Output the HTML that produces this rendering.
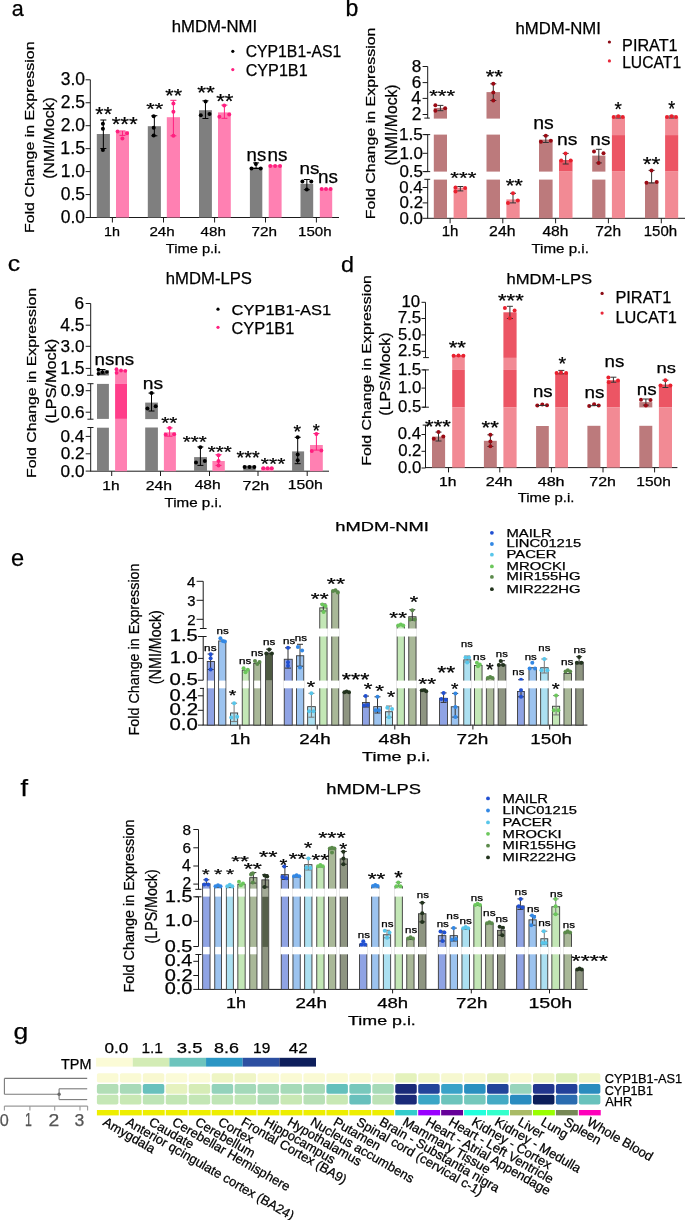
<!DOCTYPE html>
<html><head><meta charset="utf-8"><style>
html,body{margin:0;padding:0;background:#fff;}
svg{display:block;font-family:"Liberation Sans",sans-serif;will-change:transform;}
text{stroke-width:0.25px;}
</style></head><body>
<svg width="685" height="1220" viewBox="0 0 685 1220">
<rect width="685" height="1220" fill="#fff"/>
<text x="11.84" y="16.37" font-size="22.73" textLength="11.99" lengthAdjust="spacingAndGlyphs" fill="#000" stroke="#000">a</text>
<text x="171.73" y="32.1" font-size="15.59" textLength="85.38" lengthAdjust="spacingAndGlyphs" fill="#000" stroke="#000">hMDM-NMI</text>
<circle cx="232.8" cy="51.3" r="1.6" fill="#000"/>
<text x="245.71" y="57.44" font-size="16.34" textLength="95.48" lengthAdjust="spacingAndGlyphs" fill="#000" stroke="#000">CYP1B1-AS1</text>
<circle cx="232.8" cy="69.6" r="1.6" fill="#ff1f7f"/>
<text x="245.69" y="75.84" font-size="16.34" textLength="61.94" lengthAdjust="spacingAndGlyphs" fill="#000" stroke="#000">CYP1B1</text>
<text transform="translate(34.14,233.08) rotate(-90)" x="0" y="0" font-size="13.16" textLength="191.65" lengthAdjust="spacingAndGlyphs" fill="#000" stroke="#000">Fold Change in Expression</text>
<text transform="translate(54.26,178.65) rotate(-90)" x="0" y="0" font-size="14.97" textLength="81.41" lengthAdjust="spacingAndGlyphs" fill="#000" stroke="#000">(NMI/Mock)</text>
<line x1="90.3" y1="79.7" x2="90.3" y2="217.5" stroke="#1a1a1a" stroke-width="1"/>
<line x1="85.6" y1="217.5" x2="90.3" y2="217.5" stroke="#1a1a1a" stroke-width="1"/>
<text x="60.72" y="222.93" font-size="17.46" textLength="24.28" lengthAdjust="spacingAndGlyphs" fill="#000" stroke="#000">0.0</text>
<line x1="85.6" y1="194.55" x2="90.3" y2="194.55" stroke="#1a1a1a" stroke-width="1"/>
<text x="60.72" y="199.98" font-size="17.46" textLength="24.28" lengthAdjust="spacingAndGlyphs" fill="#000" stroke="#000">0.5</text>
<line x1="85.6" y1="171.6" x2="90.3" y2="171.6" stroke="#1a1a1a" stroke-width="1"/>
<text x="60.72" y="177.03" font-size="17.46" textLength="24.28" lengthAdjust="spacingAndGlyphs" fill="#000" stroke="#000">1.0</text>
<line x1="85.6" y1="148.65" x2="90.3" y2="148.65" stroke="#1a1a1a" stroke-width="1"/>
<text x="60.39" y="154.07" font-size="17.71" textLength="24.63" lengthAdjust="spacingAndGlyphs" fill="#000" stroke="#000">1.5</text>
<line x1="85.6" y1="125.7" x2="90.3" y2="125.7" stroke="#1a1a1a" stroke-width="1"/>
<text x="60.72" y="131.13" font-size="17.46" textLength="24.28" lengthAdjust="spacingAndGlyphs" fill="#000" stroke="#000">2.0</text>
<line x1="85.6" y1="102.75" x2="90.3" y2="102.75" stroke="#1a1a1a" stroke-width="1"/>
<text x="60.72" y="108.18" font-size="17.46" textLength="24.28" lengthAdjust="spacingAndGlyphs" fill="#000" stroke="#000">2.5</text>
<line x1="85.6" y1="79.8" x2="90.3" y2="79.8" stroke="#1a1a1a" stroke-width="1"/>
<text x="60.72" y="85.23" font-size="17.46" textLength="24.28" lengthAdjust="spacingAndGlyphs" fill="#000" stroke="#000">3.0</text>
<line x1="89.8" y1="217.5" x2="339" y2="217.5" stroke="#1a1a1a" stroke-width="1"/>
<line x1="112.4" y1="217.5" x2="112.4" y2="222.5" stroke="#1a1a1a" stroke-width="1"/>
<text x="104.13" y="236.2" font-size="13.52" textLength="15.94" lengthAdjust="spacingAndGlyphs" fill="#000" stroke="#000">1h</text>
<line x1="163.5" y1="217.5" x2="163.5" y2="222.5" stroke="#1a1a1a" stroke-width="1"/>
<text x="149.44" y="236.2" font-size="13.52" textLength="25.3" lengthAdjust="spacingAndGlyphs" fill="#000" stroke="#000">24h</text>
<line x1="214.6" y1="217.5" x2="214.6" y2="222.5" stroke="#1a1a1a" stroke-width="1"/>
<text x="200.52" y="236.07" font-size="13.33" textLength="25.32" lengthAdjust="spacingAndGlyphs" fill="#000" stroke="#000">48h</text>
<line x1="265.5" y1="217.5" x2="265.5" y2="222.5" stroke="#1a1a1a" stroke-width="1"/>
<text x="251.54" y="236.2" font-size="13.52" textLength="25.51" lengthAdjust="spacingAndGlyphs" fill="#000" stroke="#000">72h</text>
<line x1="316.4" y1="217.5" x2="316.4" y2="222.5" stroke="#1a1a1a" stroke-width="1"/>
<text x="298.07" y="236.07" font-size="13.33" textLength="33.5" lengthAdjust="spacingAndGlyphs" fill="#000" stroke="#000">150h</text>
<text x="165.81" y="252.56" font-size="13.05" textLength="55.64" lengthAdjust="spacingAndGlyphs" fill="#000" stroke="#000">Time p.i.</text>
<rect x="96.8" y="134" width="13.1" height="83.5" fill="#7f7f7f"/>
<line x1="103.35" y1="120" x2="103.35" y2="148.5" stroke="#000" stroke-width="1"/>
<line x1="100.35" y1="120" x2="106.35" y2="120" stroke="#000" stroke-width="1"/>
<line x1="100.35" y1="148.5" x2="106.35" y2="148.5" stroke="#000" stroke-width="1"/>
<circle cx="102.9" cy="123.8" r="2" fill="#000"/>
<circle cx="102.9" cy="128.8" r="2" fill="#000"/>
<circle cx="102.9" cy="150" r="2" fill="#000"/>
<rect x="116" y="131.4" width="13" height="86.1" fill="#ff80b2"/>
<line x1="122.5" y1="131" x2="122.5" y2="135.4" stroke="#ff1f7f" stroke-width="1"/>
<line x1="119.5" y1="131" x2="125.5" y2="131" stroke="#ff1f7f" stroke-width="1"/>
<line x1="119.5" y1="135.4" x2="125.5" y2="135.4" stroke="#ff1f7f" stroke-width="1"/>
<circle cx="117.6" cy="131.6" r="2" fill="#ff1f7f"/>
<circle cx="127" cy="133.2" r="2" fill="#ff1f7f"/>
<circle cx="122.4" cy="138.6" r="2" fill="#ff1f7f"/>
<rect x="147.8" y="126.2" width="13.1" height="91.3" fill="#7f7f7f"/>
<line x1="154.35" y1="115.7" x2="154.35" y2="135.8" stroke="#000" stroke-width="1"/>
<line x1="151.35" y1="115.7" x2="157.35" y2="115.7" stroke="#000" stroke-width="1"/>
<line x1="151.35" y1="135.8" x2="157.35" y2="135.8" stroke="#000" stroke-width="1"/>
<circle cx="153.7" cy="116.3" r="2" fill="#000"/>
<circle cx="153.7" cy="127.7" r="2" fill="#000"/>
<circle cx="153.7" cy="135.4" r="2" fill="#000"/>
<rect x="166.8" y="117.2" width="13.2" height="100.3" fill="#ff80b2"/>
<line x1="173.4" y1="100.3" x2="173.4" y2="135.8" stroke="#ff1f7f" stroke-width="1"/>
<line x1="170.4" y1="100.3" x2="176.4" y2="100.3" stroke="#ff1f7f" stroke-width="1"/>
<line x1="170.4" y1="135.8" x2="176.4" y2="135.8" stroke="#ff1f7f" stroke-width="1"/>
<circle cx="173.4" cy="103.6" r="2" fill="#ff1f7f"/>
<circle cx="173.4" cy="111.7" r="2" fill="#ff1f7f"/>
<circle cx="173.4" cy="135.8" r="2" fill="#ff1f7f"/>
<rect x="199" y="110.2" width="12.9" height="107.3" fill="#7f7f7f"/>
<line x1="205.45" y1="100.8" x2="205.45" y2="118.5" stroke="#000" stroke-width="1"/>
<line x1="202.45" y1="100.8" x2="208.45" y2="100.8" stroke="#000" stroke-width="1"/>
<line x1="202.45" y1="118.5" x2="208.45" y2="118.5" stroke="#000" stroke-width="1"/>
<circle cx="205.6" cy="101.4" r="2" fill="#000"/>
<circle cx="200.8" cy="115.2" r="2" fill="#000"/>
<circle cx="209.5" cy="113.9" r="2" fill="#000"/>
<rect x="218" y="112.4" width="12.8" height="105.1" fill="#ff80b2"/>
<line x1="224.4" y1="105.1" x2="224.4" y2="118.3" stroke="#ff1f7f" stroke-width="1"/>
<line x1="221.4" y1="105.1" x2="227.4" y2="105.1" stroke="#ff1f7f" stroke-width="1"/>
<line x1="221.4" y1="118.3" x2="227.4" y2="118.3" stroke="#ff1f7f" stroke-width="1"/>
<circle cx="224.2" cy="105.4" r="2" fill="#ff1f7f"/>
<circle cx="219.4" cy="116.7" r="2" fill="#ff1f7f"/>
<circle cx="229.2" cy="114.6" r="2" fill="#ff1f7f"/>
<rect x="249.9" y="167.3" width="12.4" height="50.2" fill="#7f7f7f"/>
<line x1="256.1" y1="162.9" x2="256.1" y2="168.5" stroke="#000" stroke-width="1"/>
<line x1="253.1" y1="162.9" x2="259.1" y2="162.9" stroke="#000" stroke-width="1"/>
<line x1="253.1" y1="168.5" x2="259.1" y2="168.5" stroke="#000" stroke-width="1"/>
<circle cx="251.5" cy="168.5" r="2" fill="#000"/>
<circle cx="260.7" cy="168.5" r="2" fill="#000"/>
<circle cx="255.9" cy="164" r="2" fill="#000"/>
<rect x="268.7" y="165" width="12.9" height="52.5" fill="#ff80b2"/>
<circle cx="270.3" cy="166.1" r="2" fill="#ff1f7f"/>
<circle cx="275.1" cy="166.1" r="2" fill="#ff1f7f"/>
<circle cx="280" cy="166.1" r="2" fill="#ff1f7f"/>
<rect x="300.5" y="183.8" width="12.7" height="33.7" fill="#7f7f7f"/>
<line x1="306.85" y1="179.5" x2="306.85" y2="189.7" stroke="#000" stroke-width="1"/>
<line x1="303.85" y1="179.5" x2="309.85" y2="179.5" stroke="#000" stroke-width="1"/>
<line x1="303.85" y1="189.7" x2="309.85" y2="189.7" stroke="#000" stroke-width="1"/>
<circle cx="302.4" cy="181.4" r="2" fill="#000"/>
<circle cx="311.3" cy="181.4" r="2" fill="#000"/>
<circle cx="306.8" cy="189.4" r="2" fill="#000"/>
<rect x="319.8" y="188.6" width="12.4" height="28.9" fill="#ff80b2"/>
<circle cx="321.7" cy="188.9" r="2" fill="#ff1f7f"/>
<circle cx="326" cy="188.9" r="2" fill="#ff1f7f"/>
<circle cx="330.6" cy="188.9" r="2" fill="#ff1f7f"/>
<text x="95.38" y="121.09" font-size="21.14" textLength="16.61" lengthAdjust="spacingAndGlyphs" fill="#000" stroke="#000">**</text>
<text x="111.67" y="131.2" font-size="20" textLength="26.02" lengthAdjust="spacingAndGlyphs" fill="#000" stroke="#000">***</text>
<text x="146.37" y="115.23" font-size="16.86" textLength="16.92" lengthAdjust="spacingAndGlyphs" fill="#000" stroke="#000">**</text>
<text x="165.38" y="101.91" font-size="18.86" textLength="16.71" lengthAdjust="spacingAndGlyphs" fill="#000" stroke="#000">**</text>
<text x="197.16" y="99.11" font-size="18.86" textLength="17.55" lengthAdjust="spacingAndGlyphs" fill="#000" stroke="#000">**</text>
<text x="216.17" y="107.6" font-size="20" textLength="17.24" lengthAdjust="spacingAndGlyphs" fill="#000" stroke="#000">**</text>
<text x="246.6" y="161.13" font-size="17.45" textLength="19.58" lengthAdjust="spacingAndGlyphs" fill="#000" stroke="#000">ns</text>
<text x="267.47" y="161.13" font-size="17.45" textLength="19.91" lengthAdjust="spacingAndGlyphs" fill="#000" stroke="#000">ns</text>
<text x="299.57" y="174.03" font-size="16.73" textLength="19.91" lengthAdjust="spacingAndGlyphs" fill="#000" stroke="#000">ns</text>
<text x="318.07" y="182.83" font-size="17.45" textLength="19.91" lengthAdjust="spacingAndGlyphs" fill="#000" stroke="#000">ns</text>
<text x="345.5" y="16.2" font-size="23" fill="#000" stroke="#000">b</text>
<text x="515.53" y="33.9" font-size="15.59" textLength="85.38" lengthAdjust="spacingAndGlyphs" fill="#000" stroke="#000">hMDM-NMI</text>
<circle cx="609.4" cy="42" r="1.6" fill="#8b0a14"/>
<text x="622.1" y="50.9" font-size="16.09" textLength="55.56" lengthAdjust="spacingAndGlyphs" fill="#000" stroke="#000">PIRAT1</text>
<circle cx="609.4" cy="60.9" r="1.6" fill="#e8283a"/>
<text x="622.15" y="68.34" font-size="15.63" textLength="58.97" lengthAdjust="spacingAndGlyphs" fill="#000" stroke="#000">LUCAT1</text>
<text transform="translate(375.46,219.18) rotate(-90)" x="0" y="0" font-size="13.05" textLength="191.65" lengthAdjust="spacingAndGlyphs" fill="#000" stroke="#000">Fold Change in Expression</text>
<text transform="translate(397.12,165.54) rotate(-90)" x="0" y="0" font-size="15.61" textLength="81.1" lengthAdjust="spacingAndGlyphs" fill="#000" stroke="#000">(NMI/Mock)</text>
<line x1="427.7" y1="66.5" x2="427.7" y2="118.1" stroke="#1a1a1a" stroke-width="1"/>
<line x1="424.3" y1="118.1" x2="429.8" y2="118.1" stroke="#1a1a1a" stroke-width="1"/>
<line x1="427.7" y1="134.6" x2="427.7" y2="171.6" stroke="#1a1a1a" stroke-width="1"/>
<line x1="424.3" y1="134.6" x2="430.2" y2="134.6" stroke="#1a1a1a" stroke-width="1"/>
<line x1="424.3" y1="171.6" x2="430.2" y2="171.6" stroke="#1a1a1a" stroke-width="1"/>
<line x1="427.7" y1="179.3" x2="427.7" y2="218.3" stroke="#1a1a1a" stroke-width="1"/>
<line x1="424.3" y1="179.3" x2="430.2" y2="179.3" stroke="#1a1a1a" stroke-width="1"/>
<line x1="422.6" y1="66.5" x2="427.7" y2="66.5" stroke="#1a1a1a" stroke-width="1"/>
<text x="411.65" y="72.03" font-size="17.18" textLength="9.56" lengthAdjust="spacingAndGlyphs" fill="#000" stroke="#000">8</text>
<line x1="422.6" y1="82.6" x2="427.7" y2="82.6" stroke="#1a1a1a" stroke-width="1"/>
<text x="411.74" y="88.13" font-size="17.18" textLength="9.56" lengthAdjust="spacingAndGlyphs" fill="#000" stroke="#000">6</text>
<line x1="422.6" y1="98.4" x2="427.7" y2="98.4" stroke="#1a1a1a" stroke-width="1"/>
<text x="411.22" y="104.1" font-size="17.68" textLength="9.83" lengthAdjust="spacingAndGlyphs" fill="#000" stroke="#000">4</text>
<line x1="422.6" y1="114.5" x2="427.7" y2="114.5" stroke="#1a1a1a" stroke-width="1"/>
<text x="411.7" y="120.2" font-size="17.43" textLength="9.69" lengthAdjust="spacingAndGlyphs" fill="#000" stroke="#000">2</text>
<line x1="422.6" y1="134.6" x2="427.7" y2="134.6" stroke="#1a1a1a" stroke-width="1"/>
<text x="399.06" y="139.83" font-size="17.14" textLength="23.83" lengthAdjust="spacingAndGlyphs" fill="#000" stroke="#000">1.5</text>
<line x1="422.6" y1="153.3" x2="427.7" y2="153.3" stroke="#1a1a1a" stroke-width="1"/>
<text x="399.38" y="158.53" font-size="16.9" textLength="23.5" lengthAdjust="spacingAndGlyphs" fill="#000" stroke="#000">1.0</text>
<line x1="422.6" y1="171.6" x2="427.7" y2="171.6" stroke="#1a1a1a" stroke-width="1"/>
<text x="399.38" y="176.83" font-size="16.9" textLength="23.5" lengthAdjust="spacingAndGlyphs" fill="#000" stroke="#000">0.5</text>
<line x1="422.6" y1="187.5" x2="427.7" y2="187.5" stroke="#1a1a1a" stroke-width="1"/>
<text x="399.21" y="192.73" font-size="16.9" textLength="23.5" lengthAdjust="spacingAndGlyphs" fill="#000" stroke="#000">0.4</text>
<line x1="422.6" y1="202.9" x2="427.7" y2="202.9" stroke="#1a1a1a" stroke-width="1"/>
<text x="399.55" y="208.13" font-size="16.9" textLength="23.5" lengthAdjust="spacingAndGlyphs" fill="#000" stroke="#000">0.2</text>
<line x1="422.6" y1="218.3" x2="427.7" y2="218.3" stroke="#1a1a1a" stroke-width="1"/>
<text x="399.38" y="223.53" font-size="16.9" textLength="23.5" lengthAdjust="spacingAndGlyphs" fill="#000" stroke="#000">0.0</text>
<line x1="427.2" y1="218.3" x2="685" y2="218.3" stroke="#1a1a1a" stroke-width="1"/>
<line x1="450.1" y1="218.3" x2="450.1" y2="223.3" stroke="#1a1a1a" stroke-width="1"/>
<text x="441.67" y="236.2" font-size="14.21" textLength="16.74" lengthAdjust="spacingAndGlyphs" fill="#000" stroke="#000">1h</text>
<line x1="502.8" y1="218.3" x2="502.8" y2="223.3" stroke="#1a1a1a" stroke-width="1"/>
<text x="489.11" y="236.2" font-size="14.21" textLength="26.37" lengthAdjust="spacingAndGlyphs" fill="#000" stroke="#000">24h</text>
<line x1="555.6" y1="218.3" x2="555.6" y2="223.3" stroke="#1a1a1a" stroke-width="1"/>
<text x="542.41" y="236.06" font-size="14.01" textLength="25.95" lengthAdjust="spacingAndGlyphs" fill="#000" stroke="#000">48h</text>
<line x1="608.4" y1="218.3" x2="608.4" y2="223.3" stroke="#1a1a1a" stroke-width="1"/>
<text x="595.23" y="236.2" font-size="14.21" textLength="25.84" lengthAdjust="spacingAndGlyphs" fill="#000" stroke="#000">72h</text>
<line x1="661.3" y1="218.3" x2="661.3" y2="223.3" stroke="#1a1a1a" stroke-width="1"/>
<text x="643.77" y="236.06" font-size="14.01" textLength="33.4" lengthAdjust="spacingAndGlyphs" fill="#000" stroke="#000">150h</text>
<text x="531.4" y="253.33" font-size="13.69" textLength="57.5" lengthAdjust="spacingAndGlyphs" fill="#000" stroke="#000">Time p.i.</text>
<rect x="433.8" y="107.9" width="13.2" height="10.7" fill="#bc7a7c"/>
<rect x="433.8" y="134.6" width="13.2" height="37" fill="#bc7a7c"/>
<rect x="433.8" y="179.6" width="13.2" height="38.7" fill="#bc7a7c"/>
<line x1="440.4" y1="105.4" x2="440.4" y2="110.7" stroke="#333" stroke-width="1"/>
<line x1="437.4" y1="105.4" x2="443.4" y2="105.4" stroke="#333" stroke-width="1"/>
<line x1="437.4" y1="110.7" x2="443.4" y2="110.7" stroke="#333" stroke-width="1"/>
<circle cx="435.4" cy="105.3" r="2" fill="#9a0a14"/>
<circle cx="435.4" cy="110.7" r="2" fill="#9a0a14"/>
<circle cx="445.1" cy="108.2" r="2" fill="#9a0a14"/>
<rect x="453.6" y="187.7" width="13.5" height="30.6" fill="#f28a94"/>
<line x1="460.3" y1="186.5" x2="460.3" y2="190.9" stroke="#333" stroke-width="1"/>
<line x1="457.3" y1="186.5" x2="463.3" y2="186.5" stroke="#333" stroke-width="1"/>
<line x1="457.3" y1="190.9" x2="463.3" y2="190.9" stroke="#333" stroke-width="1"/>
<circle cx="455.5" cy="187.4" r="2" fill="#e8202e"/>
<circle cx="455.5" cy="191.4" r="2" fill="#e8202e"/>
<circle cx="465.1" cy="188" r="2" fill="#e8202e"/>
<rect x="486.5" y="92.1" width="13.5" height="26.5" fill="#bc7a7c"/>
<rect x="486.5" y="134.6" width="13.5" height="37" fill="#bc7a7c"/>
<rect x="486.5" y="179.6" width="13.5" height="38.7" fill="#bc7a7c"/>
<line x1="493.3" y1="83.8" x2="493.3" y2="100.5" stroke="#333" stroke-width="1"/>
<line x1="490.3" y1="83.8" x2="496.3" y2="83.8" stroke="#333" stroke-width="1"/>
<line x1="490.3" y1="100.5" x2="496.3" y2="100.5" stroke="#333" stroke-width="1"/>
<circle cx="493.3" cy="83.8" r="2" fill="#9a0a14"/>
<circle cx="493.3" cy="92.6" r="2" fill="#9a0a14"/>
<circle cx="493.3" cy="100.5" r="2" fill="#9a0a14"/>
<rect x="506.4" y="199.4" width="13.3" height="18.9" fill="#f28a94"/>
<line x1="513" y1="193.3" x2="513" y2="202.9" stroke="#333" stroke-width="1"/>
<line x1="510" y1="193.3" x2="516" y2="193.3" stroke="#333" stroke-width="1"/>
<line x1="510" y1="202.9" x2="516" y2="202.9" stroke="#333" stroke-width="1"/>
<circle cx="513" cy="193.3" r="2" fill="#e8202e"/>
<circle cx="508" cy="202.9" r="2" fill="#e8202e"/>
<circle cx="517.8" cy="200.5" r="2" fill="#e8202e"/>
<rect x="539" y="139.6" width="13.6" height="32" fill="#bc7a7c"/>
<rect x="539" y="179.6" width="13.6" height="38.7" fill="#bc7a7c"/>
<line x1="545.8" y1="135.7" x2="545.8" y2="142.5" stroke="#333" stroke-width="1"/>
<line x1="542.8" y1="135.7" x2="548.8" y2="135.7" stroke="#333" stroke-width="1"/>
<line x1="542.8" y1="142.5" x2="548.8" y2="142.5" stroke="#333" stroke-width="1"/>
<circle cx="540.9" cy="141.8" r="2" fill="#9a0a14"/>
<circle cx="550.8" cy="140.7" r="2" fill="#9a0a14"/>
<circle cx="545.8" cy="135.7" r="2" fill="#9a0a14"/>
<rect x="559" y="160" width="13.5" height="11.6" fill="#ec5564"/>
<rect x="559" y="171.6" width="13.5" height="46.7" fill="#f28a94"/>
<line x1="565.7" y1="153.4" x2="565.7" y2="164" stroke="#333" stroke-width="1"/>
<line x1="562.7" y1="153.4" x2="568.7" y2="153.4" stroke="#333" stroke-width="1"/>
<line x1="562.7" y1="164" x2="568.7" y2="164" stroke="#333" stroke-width="1"/>
<circle cx="561.2" cy="160.6" r="2" fill="#e8202e"/>
<circle cx="570.7" cy="160.6" r="2" fill="#e8202e"/>
<circle cx="565.5" cy="153.4" r="2" fill="#e8202e"/>
<rect x="592.2" y="155.6" width="13.2" height="16" fill="#bc7a7c"/>
<rect x="592.2" y="179.6" width="13.2" height="38.7" fill="#bc7a7c"/>
<line x1="598.8" y1="149.3" x2="598.8" y2="162.9" stroke="#333" stroke-width="1"/>
<line x1="595.8" y1="149.3" x2="601.8" y2="149.3" stroke="#333" stroke-width="1"/>
<line x1="595.8" y1="162.9" x2="601.8" y2="162.9" stroke="#333" stroke-width="1"/>
<circle cx="594" cy="151.6" r="2" fill="#9a0a14"/>
<circle cx="603.5" cy="153.2" r="2" fill="#9a0a14"/>
<circle cx="598.6" cy="162.9" r="2" fill="#9a0a14"/>
<rect x="611.9" y="117" width="13.1" height="18.1" fill="#f28a94"/>
<rect x="611.9" y="135.1" width="13.1" height="36.5" fill="#ec5564"/>
<rect x="611.9" y="171.6" width="13.1" height="46.7" fill="#f28a94"/>
<line x1="618.4" y1="116" x2="618.4" y2="118" stroke="#333" stroke-width="1"/>
<line x1="615.4" y1="116" x2="621.4" y2="116" stroke="#333" stroke-width="1"/>
<line x1="615.4" y1="118" x2="621.4" y2="118" stroke="#333" stroke-width="1"/>
<circle cx="613.7" cy="117" r="2" fill="#e8202e"/>
<circle cx="618.3" cy="116.3" r="2" fill="#e8202e"/>
<circle cx="622.8" cy="117" r="2" fill="#e8202e"/>
<rect x="645" y="182.1" width="13.3" height="36.2" fill="#bc7a7c"/>
<line x1="651.6" y1="170.4" x2="651.6" y2="183" stroke="#333" stroke-width="1"/>
<line x1="648.6" y1="170.4" x2="654.6" y2="170.4" stroke="#333" stroke-width="1"/>
<line x1="648.6" y1="183" x2="654.6" y2="183" stroke="#333" stroke-width="1"/>
<circle cx="646.5" cy="182.8" r="2" fill="#9a0a14"/>
<circle cx="656.7" cy="182.1" r="2" fill="#9a0a14"/>
<circle cx="651.5" cy="170.4" r="2" fill="#9a0a14"/>
<rect x="665.1" y="117" width="13.1" height="18.1" fill="#f28a94"/>
<rect x="665.1" y="135.1" width="13.1" height="36.5" fill="#ec5564"/>
<rect x="665.1" y="171.6" width="13.1" height="46.7" fill="#f28a94"/>
<line x1="671.6" y1="116" x2="671.6" y2="118" stroke="#333" stroke-width="1"/>
<line x1="668.6" y1="116" x2="674.6" y2="116" stroke="#333" stroke-width="1"/>
<line x1="668.6" y1="118" x2="674.6" y2="118" stroke="#333" stroke-width="1"/>
<circle cx="667" cy="117" r="2" fill="#e8202e"/>
<circle cx="671.6" cy="116.3" r="2" fill="#e8202e"/>
<circle cx="676" cy="117" r="2" fill="#e8202e"/>
<text x="429.17" y="101.53" font-size="17.14" textLength="25.92" lengthAdjust="spacingAndGlyphs" fill="#000" stroke="#000">***</text>
<text x="450.37" y="184.23" font-size="17.14" textLength="26.02" lengthAdjust="spacingAndGlyphs" fill="#000" stroke="#000">***</text>
<text x="485.67" y="82.62" font-size="18.29" textLength="17.13" lengthAdjust="spacingAndGlyphs" fill="#000" stroke="#000">**</text>
<text x="505.77" y="191.82" font-size="18.29" textLength="17.13" lengthAdjust="spacingAndGlyphs" fill="#000" stroke="#000">**</text>
<text x="533.23" y="129.22" font-size="18.18" textLength="20.57" lengthAdjust="spacingAndGlyphs" fill="#000" stroke="#000">ns</text>
<text x="557.04" y="145.03" font-size="17.27" textLength="20.46" lengthAdjust="spacingAndGlyphs" fill="#000" stroke="#000">ns</text>
<text x="590.37" y="145.03" font-size="17.27" textLength="20.02" lengthAdjust="spacingAndGlyphs" fill="#000" stroke="#000">ns</text>
<text x="614.62" y="115.61" font-size="19.43" textLength="7.34" lengthAdjust="spacingAndGlyphs" fill="#000" stroke="#000">*</text>
<text x="642.76" y="171.19" font-size="21.14" textLength="17.76" lengthAdjust="spacingAndGlyphs" fill="#000" stroke="#000">**</text>
<text x="668.23" y="116.48" font-size="22" textLength="6.91" lengthAdjust="spacingAndGlyphs" fill="#000" stroke="#000">*</text>
<text x="7.81" y="270.97" font-size="22.55" textLength="12.41" lengthAdjust="spacingAndGlyphs" fill="#000" stroke="#000">c</text>
<text x="165.83" y="284.43" font-size="17.01" textLength="86.16" lengthAdjust="spacingAndGlyphs" fill="#000" stroke="#000">hMDM-LPS</text>
<circle cx="218" cy="309.2" r="1.6" fill="#000"/>
<text x="231.58" y="315.35" font-size="15.49" textLength="99.64" lengthAdjust="spacingAndGlyphs" fill="#000" stroke="#000">CYP1B1-AS1</text>
<circle cx="218" cy="327.3" r="1.6" fill="#ff1f7f"/>
<text x="231.58" y="333.74" font-size="16.06" textLength="62.66" lengthAdjust="spacingAndGlyphs" fill="#000" stroke="#000">CYP1B1</text>
<text transform="translate(35.95,477.97) rotate(-90)" x="0" y="0" font-size="13.58" textLength="190.03" lengthAdjust="spacingAndGlyphs" fill="#000" stroke="#000">Fold Change in Expression</text>
<text transform="translate(56.16,423.57) rotate(-90)" x="0" y="0" font-size="14.97" textLength="84.8" lengthAdjust="spacingAndGlyphs" fill="#000" stroke="#000">(LPS/Mock)</text>
<line x1="90.7" y1="303.5" x2="90.7" y2="375.3" stroke="#1a1a1a" stroke-width="1"/>
<line x1="87.1" y1="375.3" x2="93.4" y2="375.3" stroke="#1a1a1a" stroke-width="1"/>
<line x1="90.7" y1="383.7" x2="90.7" y2="419.2" stroke="#1a1a1a" stroke-width="1"/>
<line x1="87.4" y1="383.7" x2="93.5" y2="383.7" stroke="#1a1a1a" stroke-width="1"/>
<line x1="87.4" y1="419.2" x2="93.5" y2="419.2" stroke="#1a1a1a" stroke-width="1"/>
<line x1="90.7" y1="427.5" x2="90.7" y2="471.2" stroke="#1a1a1a" stroke-width="1"/>
<line x1="87.4" y1="427.5" x2="93.5" y2="427.5" stroke="#1a1a1a" stroke-width="1"/>
<line x1="85.7" y1="303.5" x2="90.7" y2="303.5" stroke="#1a1a1a" stroke-width="1"/>
<text x="74.44" y="308.93" font-size="17.18" textLength="9.56" lengthAdjust="spacingAndGlyphs" fill="#000" stroke="#000">6</text>
<line x1="85.7" y1="325.2" x2="90.7" y2="325.2" stroke="#1a1a1a" stroke-width="1"/>
<text x="60.27" y="330.63" font-size="17.43" textLength="24.23" lengthAdjust="spacingAndGlyphs" fill="#000" stroke="#000">4.5</text>
<line x1="85.7" y1="346.3" x2="90.7" y2="346.3" stroke="#1a1a1a" stroke-width="1"/>
<text x="60.6" y="351.73" font-size="17.18" textLength="23.89" lengthAdjust="spacingAndGlyphs" fill="#000" stroke="#000">3.0</text>
<line x1="85.7" y1="368.4" x2="90.7" y2="368.4" stroke="#1a1a1a" stroke-width="1"/>
<text x="60.27" y="373.83" font-size="17.43" textLength="24.23" lengthAdjust="spacingAndGlyphs" fill="#000" stroke="#000">1.5</text>
<line x1="85.7" y1="390.7" x2="90.7" y2="390.7" stroke="#1a1a1a" stroke-width="1"/>
<text x="60.69" y="396.13" font-size="17.18" textLength="23.89" lengthAdjust="spacingAndGlyphs" fill="#000" stroke="#000">0.9</text>
<line x1="85.7" y1="412.2" x2="90.7" y2="412.2" stroke="#1a1a1a" stroke-width="1"/>
<text x="60.69" y="417.63" font-size="17.18" textLength="23.89" lengthAdjust="spacingAndGlyphs" fill="#000" stroke="#000">0.6</text>
<line x1="85.7" y1="436.4" x2="90.7" y2="436.4" stroke="#1a1a1a" stroke-width="1"/>
<text x="60.43" y="441.83" font-size="17.18" textLength="23.89" lengthAdjust="spacingAndGlyphs" fill="#000" stroke="#000">0.4</text>
<line x1="85.7" y1="453.8" x2="90.7" y2="453.8" stroke="#1a1a1a" stroke-width="1"/>
<text x="60.77" y="459.23" font-size="17.18" textLength="23.89" lengthAdjust="spacingAndGlyphs" fill="#000" stroke="#000">0.2</text>
<line x1="85.7" y1="471.1" x2="90.7" y2="471.1" stroke="#1a1a1a" stroke-width="1"/>
<text x="60.6" y="476.53" font-size="17.18" textLength="23.89" lengthAdjust="spacingAndGlyphs" fill="#000" stroke="#000">0.0</text>
<line x1="90.2" y1="471.2" x2="329" y2="471.2" stroke="#1a1a1a" stroke-width="1"/>
<line x1="111.7" y1="471.2" x2="111.7" y2="476" stroke="#1a1a1a" stroke-width="1"/>
<text x="102.34" y="489.5" font-size="12.69" textLength="17.2" lengthAdjust="spacingAndGlyphs" fill="#000" stroke="#000">1h</text>
<line x1="160.5" y1="471.2" x2="160.5" y2="476" stroke="#1a1a1a" stroke-width="1"/>
<text x="145.81" y="489.5" font-size="12.69" textLength="26.27" lengthAdjust="spacingAndGlyphs" fill="#000" stroke="#000">24h</text>
<line x1="209.5" y1="471.2" x2="209.5" y2="476" stroke="#1a1a1a" stroke-width="1"/>
<text x="194.71" y="489.37" font-size="12.52" textLength="25.95" lengthAdjust="spacingAndGlyphs" fill="#000" stroke="#000">48h</text>
<line x1="258" y1="471.2" x2="258" y2="476" stroke="#1a1a1a" stroke-width="1"/>
<text x="242.5" y="489.5" font-size="12.69" textLength="26.7" lengthAdjust="spacingAndGlyphs" fill="#000" stroke="#000">72h</text>
<line x1="307.2" y1="471.2" x2="307.2" y2="476" stroke="#1a1a1a" stroke-width="1"/>
<text x="287.72" y="489.37" font-size="12.52" textLength="35.1" lengthAdjust="spacingAndGlyphs" fill="#000" stroke="#000">150h</text>
<text x="164.5" y="506.71" font-size="13.26" textLength="57.6" lengthAdjust="spacingAndGlyphs" fill="#000" stroke="#000">Time p.i.</text>
<rect x="97" y="370.2" width="11.9" height="5.3" fill="#7f7f7f"/>
<rect x="97" y="383.9" width="11.9" height="35" fill="#7f7f7f"/>
<rect x="97" y="427.7" width="11.9" height="43.5" fill="#7f7f7f"/>
<line x1="102.5" y1="369.5" x2="102.5" y2="374" stroke="#000" stroke-width="1"/>
<line x1="99.5" y1="369.5" x2="105.5" y2="369.5" stroke="#000" stroke-width="1"/>
<line x1="99.5" y1="374" x2="105.5" y2="374" stroke="#000" stroke-width="1"/>
<circle cx="98.4" cy="369.6" r="1.8" fill="#000"/>
<circle cx="106.9" cy="372" r="1.8" fill="#000"/>
<circle cx="98.4" cy="373.7" r="1.8" fill="#000"/>
<circle cx="102.5" cy="372.3" r="1.8" fill="#000"/>
<rect x="115.1" y="370" width="11.9" height="13.9" fill="#ff80b2"/>
<rect x="115.1" y="383.9" width="11.9" height="35" fill="#ff3e8a"/>
<rect x="115.1" y="418.9" width="11.9" height="52.3" fill="#ff80b2"/>
<circle cx="116.5" cy="369.2" r="1.9" fill="#ff1f7f"/>
<circle cx="121" cy="370.5" r="1.9" fill="#ff1f7f"/>
<circle cx="125.3" cy="370.8" r="1.9" fill="#ff1f7f"/>
<circle cx="116.6" cy="372.8" r="1.9" fill="#ff1f7f"/>
<rect x="145.2" y="402.6" width="12.7" height="16.5" fill="#7f7f7f"/>
<rect x="145.2" y="427.5" width="12.7" height="43.7" fill="#7f7f7f"/>
<line x1="151.5" y1="393.1" x2="151.5" y2="411" stroke="#000" stroke-width="1"/>
<line x1="148.5" y1="393.1" x2="154.5" y2="393.1" stroke="#000" stroke-width="1"/>
<line x1="148.5" y1="411" x2="154.5" y2="411" stroke="#000" stroke-width="1"/>
<circle cx="151.5" cy="393.1" r="2" fill="#000"/>
<circle cx="147.4" cy="408.5" r="2" fill="#000"/>
<circle cx="155.7" cy="406.3" r="2" fill="#000"/>
<rect x="163.9" y="432.3" width="12" height="38.9" fill="#ff80b2"/>
<line x1="169.6" y1="427.9" x2="169.6" y2="436.2" stroke="#ff1f7f" stroke-width="1"/>
<line x1="166.6" y1="427.9" x2="172.6" y2="427.9" stroke="#ff1f7f" stroke-width="1"/>
<line x1="166.6" y1="436.2" x2="172.6" y2="436.2" stroke="#ff1f7f" stroke-width="1"/>
<circle cx="169.6" cy="427.9" r="2" fill="#ff1f7f"/>
<circle cx="165.7" cy="434.7" r="2" fill="#ff1f7f"/>
<circle cx="174.1" cy="434.3" r="2" fill="#ff1f7f"/>
<rect x="194.1" y="457.1" width="12.9" height="14.1" fill="#7f7f7f"/>
<line x1="200.4" y1="446.9" x2="200.4" y2="465.4" stroke="#000" stroke-width="1"/>
<line x1="197.4" y1="446.9" x2="203.4" y2="446.9" stroke="#000" stroke-width="1"/>
<line x1="197.4" y1="465.4" x2="203.4" y2="465.4" stroke="#000" stroke-width="1"/>
<circle cx="200.4" cy="447.2" r="2" fill="#000"/>
<circle cx="196" cy="462.5" r="2" fill="#000"/>
<circle cx="204.8" cy="461" r="2" fill="#000"/>
<rect x="212.4" y="461" width="12.4" height="10.2" fill="#ff80b2"/>
<line x1="218.5" y1="454.7" x2="218.5" y2="465.4" stroke="#ff1f7f" stroke-width="1"/>
<line x1="215.5" y1="454.7" x2="221.5" y2="454.7" stroke="#ff1f7f" stroke-width="1"/>
<line x1="215.5" y1="465.4" x2="221.5" y2="465.4" stroke="#ff1f7f" stroke-width="1"/>
<circle cx="218.5" cy="455.2" r="2" fill="#ff1f7f"/>
<circle cx="218.5" cy="461" r="2" fill="#ff1f7f"/>
<circle cx="218.5" cy="465.4" r="2" fill="#ff1f7f"/>
<rect x="243.3" y="465.7" width="12.3" height="5.5" fill="#7f7f7f"/>
<circle cx="244.6" cy="467" r="2" fill="#000"/>
<circle cx="249.5" cy="467" r="2" fill="#000"/>
<circle cx="254.3" cy="467" r="2" fill="#000"/>
<rect x="261.2" y="467.5" width="12.3" height="3.7" fill="#ff80b2"/>
<circle cx="263.3" cy="468.3" r="2" fill="#ff1f7f"/>
<circle cx="267.6" cy="468.3" r="2" fill="#ff1f7f"/>
<circle cx="271.7" cy="468.3" r="2" fill="#ff1f7f"/>
<rect x="292.1" y="451.4" width="12" height="19.8" fill="#7f7f7f"/>
<line x1="297.7" y1="437.3" x2="297.7" y2="463.7" stroke="#000" stroke-width="1"/>
<line x1="294.7" y1="437.3" x2="300.7" y2="437.3" stroke="#000" stroke-width="1"/>
<line x1="294.7" y1="463.7" x2="300.7" y2="463.7" stroke="#000" stroke-width="1"/>
<circle cx="297.7" cy="437.3" r="2" fill="#000"/>
<circle cx="297.7" cy="454.5" r="2" fill="#000"/>
<circle cx="297.7" cy="460.3" r="2" fill="#000"/>
<rect x="310" y="445" width="12.8" height="26.2" fill="#ff80b2"/>
<line x1="316.4" y1="433.5" x2="316.4" y2="450.1" stroke="#ff1f7f" stroke-width="1"/>
<line x1="313.4" y1="433.5" x2="319.4" y2="433.5" stroke="#ff1f7f" stroke-width="1"/>
<line x1="313.4" y1="450.1" x2="319.4" y2="450.1" stroke="#ff1f7f" stroke-width="1"/>
<circle cx="316.4" cy="434" r="2" fill="#ff1f7f"/>
<circle cx="311.8" cy="451" r="2" fill="#ff1f7f"/>
<circle cx="321.3" cy="450.5" r="2" fill="#ff1f7f"/>
<text x="94.58" y="365.33" font-size="16.91" textLength="39.62" lengthAdjust="spacingAndGlyphs" fill="#000" stroke="#000">nsns</text>
<text x="142.75" y="388.53" font-size="16.73" textLength="20.35" lengthAdjust="spacingAndGlyphs" fill="#000" stroke="#000">ns</text>
<text x="161.39" y="428.83" font-size="16.86" textLength="15.98" lengthAdjust="spacingAndGlyphs" fill="#000" stroke="#000">**</text>
<text x="182.89" y="448.24" font-size="16" textLength="23.97" lengthAdjust="spacingAndGlyphs" fill="#000" stroke="#000">***</text>
<text x="207.69" y="458.03" font-size="16.86" textLength="24.07" lengthAdjust="spacingAndGlyphs" fill="#000" stroke="#000">***</text>
<text x="236.6" y="463.62" font-size="17.71" textLength="23.14" lengthAdjust="spacingAndGlyphs" fill="#000" stroke="#000">***</text>
<text x="260.89" y="469.63" font-size="17.14" textLength="24.48" lengthAdjust="spacingAndGlyphs" fill="#000" stroke="#000">***</text>
<text x="293.61" y="437.52" font-size="17.71" textLength="7.56" lengthAdjust="spacingAndGlyphs" fill="#000" stroke="#000">*</text>
<text x="312.83" y="437.22" font-size="18.29" textLength="7.02" lengthAdjust="spacingAndGlyphs" fill="#000" stroke="#000">*</text>
<text x="341.07" y="271.68" font-size="22.04" textLength="12.98" lengthAdjust="spacingAndGlyphs" fill="#000" stroke="#000">d</text>
<text x="506.44" y="284.25" font-size="15.37" textLength="85.65" lengthAdjust="spacingAndGlyphs" fill="#000" stroke="#000">hMDM-LPS</text>
<circle cx="602.1" cy="293.4" r="1.6" fill="#8b0a14"/>
<text x="615.39" y="302.8" font-size="16.38" textLength="56.08" lengthAdjust="spacingAndGlyphs" fill="#000" stroke="#000">PIRAT1</text>
<circle cx="602.1" cy="313.1" r="1.6" fill="#e8283a"/>
<text x="615.39" y="322.94" font-size="16.48" textLength="61.45" lengthAdjust="spacingAndGlyphs" fill="#000" stroke="#000">LUCAT1</text>
<text transform="translate(370.75,465.67) rotate(-90)" x="0" y="0" font-size="13.58" textLength="190.54" lengthAdjust="spacingAndGlyphs" fill="#000" stroke="#000">Fold Change in Expression</text>
<text transform="translate(390.34,415.66) rotate(-90)" x="0" y="0" font-size="15.51" textLength="83.16" lengthAdjust="spacingAndGlyphs" fill="#000" stroke="#000">(LPS/Mock)</text>
<line x1="425.5" y1="302.3" x2="425.5" y2="357.6" stroke="#1a1a1a" stroke-width="1"/>
<line x1="423.1" y1="357.6" x2="428.9" y2="357.6" stroke="#1a1a1a" stroke-width="1"/>
<line x1="425.5" y1="369.9" x2="425.5" y2="407.2" stroke="#1a1a1a" stroke-width="1"/>
<line x1="422.7" y1="369.9" x2="428.9" y2="369.9" stroke="#1a1a1a" stroke-width="1"/>
<line x1="422.7" y1="407.2" x2="428.9" y2="407.2" stroke="#1a1a1a" stroke-width="1"/>
<line x1="425.5" y1="425.1" x2="425.5" y2="468" stroke="#1a1a1a" stroke-width="1"/>
<line x1="422.7" y1="425.1" x2="428.5" y2="425.1" stroke="#1a1a1a" stroke-width="1"/>
<line x1="421.5" y1="302.3" x2="425.5" y2="302.3" stroke="#1a1a1a" stroke-width="1"/>
<text x="401.47" y="307.28" font-size="16.76" textLength="18.64" lengthAdjust="spacingAndGlyphs" fill="#000" stroke="#000">10</text>
<line x1="421.5" y1="318.5" x2="425.5" y2="318.5" stroke="#1a1a1a" stroke-width="1"/>
<text x="397.65" y="323.48" font-size="17" textLength="23.63" lengthAdjust="spacingAndGlyphs" fill="#000" stroke="#000">7.5</text>
<line x1="421.5" y1="334.9" x2="425.5" y2="334.9" stroke="#1a1a1a" stroke-width="1"/>
<text x="397.97" y="339.88" font-size="16.76" textLength="23.3" lengthAdjust="spacingAndGlyphs" fill="#000" stroke="#000">5.0</text>
<line x1="421.5" y1="351.3" x2="425.5" y2="351.3" stroke="#1a1a1a" stroke-width="1"/>
<text x="397.97" y="356.28" font-size="16.76" textLength="23.3" lengthAdjust="spacingAndGlyphs" fill="#000" stroke="#000">2.5</text>
<line x1="421.5" y1="369.9" x2="425.5" y2="369.9" stroke="#1a1a1a" stroke-width="1"/>
<text x="397.65" y="374.88" font-size="17" textLength="23.63" lengthAdjust="spacingAndGlyphs" fill="#000" stroke="#000">1.5</text>
<line x1="421.5" y1="388.1" x2="425.5" y2="388.1" stroke="#1a1a1a" stroke-width="1"/>
<text x="397.97" y="393.08" font-size="16.76" textLength="23.3" lengthAdjust="spacingAndGlyphs" fill="#000" stroke="#000">1.0</text>
<line x1="421.5" y1="407.2" x2="425.5" y2="407.2" stroke="#1a1a1a" stroke-width="1"/>
<text x="397.97" y="412.18" font-size="16.76" textLength="23.3" lengthAdjust="spacingAndGlyphs" fill="#000" stroke="#000">0.5</text>
<line x1="421.5" y1="434.5" x2="425.5" y2="434.5" stroke="#1a1a1a" stroke-width="1"/>
<text x="397.81" y="439.48" font-size="16.76" textLength="23.3" lengthAdjust="spacingAndGlyphs" fill="#000" stroke="#000">0.4</text>
<line x1="421.5" y1="451.3" x2="425.5" y2="451.3" stroke="#1a1a1a" stroke-width="1"/>
<text x="398.14" y="456.28" font-size="16.76" textLength="23.3" lengthAdjust="spacingAndGlyphs" fill="#000" stroke="#000">0.2</text>
<line x1="421.5" y1="468" x2="425.5" y2="468" stroke="#1a1a1a" stroke-width="1"/>
<text x="397.97" y="472.98" font-size="16.76" textLength="23.3" lengthAdjust="spacingAndGlyphs" fill="#000" stroke="#000">0.0</text>
<line x1="425" y1="467.6" x2="677.4" y2="467.6" stroke="#1a1a1a" stroke-width="1"/>
<line x1="448.5" y1="467.6" x2="448.5" y2="472.4" stroke="#1a1a1a" stroke-width="1"/>
<text x="439.02" y="486.3" font-size="12.69" textLength="17.43" lengthAdjust="spacingAndGlyphs" fill="#000" stroke="#000">1h</text>
<line x1="499.8" y1="467.6" x2="499.8" y2="472.4" stroke="#1a1a1a" stroke-width="1"/>
<text x="485.69" y="486.3" font-size="12.69" textLength="26.91" lengthAdjust="spacingAndGlyphs" fill="#000" stroke="#000">24h</text>
<line x1="551.4" y1="467.6" x2="551.4" y2="472.4" stroke="#1a1a1a" stroke-width="1"/>
<text x="537.7" y="486.17" font-size="12.52" textLength="26.91" lengthAdjust="spacingAndGlyphs" fill="#000" stroke="#000">48h</text>
<line x1="603" y1="467.6" x2="603" y2="472.4" stroke="#1a1a1a" stroke-width="1"/>
<text x="589.3" y="486.3" font-size="12.69" textLength="26.59" lengthAdjust="spacingAndGlyphs" fill="#000" stroke="#000">72h</text>
<line x1="654.6" y1="467.6" x2="654.6" y2="472.4" stroke="#1a1a1a" stroke-width="1"/>
<text x="636.34" y="486.17" font-size="12.52" textLength="34.46" lengthAdjust="spacingAndGlyphs" fill="#000" stroke="#000">150h</text>
<text x="517.7" y="501.68" font-size="12.94" textLength="56.67" lengthAdjust="spacingAndGlyphs" fill="#000" stroke="#000">Time p.i.</text>
<rect x="432" y="436.6" width="13.1" height="31" fill="#bc7a7c"/>
<line x1="438.5" y1="432.1" x2="438.5" y2="441" stroke="#333" stroke-width="1"/>
<line x1="435.5" y1="432.1" x2="441.5" y2="432.1" stroke="#333" stroke-width="1"/>
<line x1="435.5" y1="441" x2="441.5" y2="441" stroke="#333" stroke-width="1"/>
<circle cx="433.8" cy="438.7" r="2" fill="#9a0a14"/>
<circle cx="438.5" cy="432.1" r="2" fill="#9a0a14"/>
<circle cx="443.3" cy="436.6" r="2" fill="#9a0a14"/>
<rect x="452.2" y="355.1" width="12.6" height="2.6" fill="#ec5564"/>
<rect x="452.2" y="357.7" width="12.6" height="12.2" fill="#f28a94"/>
<rect x="452.2" y="369.9" width="12.6" height="37.6" fill="#ec5564"/>
<rect x="452.2" y="407.5" width="12.6" height="60.1" fill="#f28a94"/>
<circle cx="453.6" cy="355.8" r="2" fill="#e8202e"/>
<circle cx="458.5" cy="355.4" r="2" fill="#e8202e"/>
<circle cx="463.4" cy="355.8" r="2" fill="#e8202e"/>
<rect x="483.9" y="440.8" width="12.9" height="26.8" fill="#bc7a7c"/>
<line x1="490.4" y1="434.8" x2="490.4" y2="446.5" stroke="#333" stroke-width="1"/>
<line x1="487.4" y1="434.8" x2="493.4" y2="434.8" stroke="#333" stroke-width="1"/>
<line x1="487.4" y1="446.5" x2="493.4" y2="446.5" stroke="#333" stroke-width="1"/>
<circle cx="490.4" cy="434.8" r="2" fill="#9a0a14"/>
<circle cx="490.4" cy="441.5" r="2" fill="#9a0a14"/>
<circle cx="490.4" cy="446.2" r="2" fill="#9a0a14"/>
<rect x="503.4" y="312.3" width="13.2" height="45.6" fill="#ec5564"/>
<rect x="503.4" y="357.9" width="13.2" height="12" fill="#f28a94"/>
<rect x="503.4" y="369.9" width="13.2" height="37.6" fill="#ec5564"/>
<rect x="503.4" y="407.5" width="13.2" height="60.1" fill="#f28a94"/>
<line x1="509.9" y1="306.3" x2="509.9" y2="318.5" stroke="#333" stroke-width="1"/>
<line x1="506.9" y1="306.3" x2="512.9" y2="306.3" stroke="#333" stroke-width="1"/>
<line x1="506.9" y1="318.5" x2="512.9" y2="318.5" stroke="#333" stroke-width="1"/>
<circle cx="504.9" cy="307.9" r="2" fill="#e8202e"/>
<circle cx="514.6" cy="310.4" r="2" fill="#e8202e"/>
<circle cx="509.9" cy="318.2" r="2" fill="#e8202e"/>
<rect x="536.1" y="426" width="12.7" height="41.6" fill="#bc7a7c"/>
<circle cx="537.3" cy="405.5" r="2" fill="#9a0a14"/>
<circle cx="542.3" cy="404.6" r="2" fill="#9a0a14"/>
<circle cx="547" cy="405.2" r="2" fill="#9a0a14"/>
<line x1="537.3" y1="405.6" x2="547" y2="405.4" stroke="#333" stroke-width="1"/>
<rect x="555.2" y="373" width="12.8" height="34.5" fill="#ec5564"/>
<rect x="555.2" y="407.5" width="12.8" height="60.1" fill="#f28a94"/>
<line x1="561.3" y1="370.4" x2="561.3" y2="373.8" stroke="#333" stroke-width="1"/>
<line x1="558.3" y1="370.4" x2="564.3" y2="370.4" stroke="#333" stroke-width="1"/>
<line x1="558.3" y1="373.8" x2="564.3" y2="373.8" stroke="#333" stroke-width="1"/>
<circle cx="556.6" cy="373" r="2" fill="#e8202e"/>
<circle cx="561" cy="372.6" r="2" fill="#e8202e"/>
<circle cx="566.1" cy="373" r="2" fill="#e8202e"/>
<rect x="587.4" y="425.8" width="13" height="41.8" fill="#bc7a7c"/>
<circle cx="589.2" cy="405.9" r="2" fill="#9a0a14"/>
<circle cx="594.1" cy="404.3" r="2" fill="#9a0a14"/>
<circle cx="598.7" cy="405.5" r="2" fill="#9a0a14"/>
<line x1="589.2" y1="405.8" x2="598.7" y2="405.5" stroke="#333" stroke-width="1"/>
<rect x="606.8" y="380.2" width="13.1" height="27.3" fill="#ec5564"/>
<rect x="606.8" y="407.5" width="13.1" height="60.1" fill="#f28a94"/>
<line x1="613.4" y1="377.2" x2="613.4" y2="382.2" stroke="#333" stroke-width="1"/>
<line x1="610.4" y1="377.2" x2="616.4" y2="377.2" stroke="#333" stroke-width="1"/>
<line x1="610.4" y1="382.2" x2="616.4" y2="382.2" stroke="#333" stroke-width="1"/>
<circle cx="608.4" cy="377.4" r="2" fill="#e8202e"/>
<circle cx="608.8" cy="382.2" r="2" fill="#e8202e"/>
<circle cx="618" cy="380.6" r="2" fill="#e8202e"/>
<rect x="639.3" y="402.1" width="13" height="5.3" fill="#bc7a7c"/>
<rect x="639.3" y="425.8" width="13" height="41.8" fill="#bc7a7c"/>
<line x1="645.9" y1="399" x2="645.9" y2="405.1" stroke="#333" stroke-width="1"/>
<line x1="642.9" y1="399" x2="648.9" y2="399" stroke="#333" stroke-width="1"/>
<line x1="642.9" y1="405.1" x2="648.9" y2="405.1" stroke="#333" stroke-width="1"/>
<circle cx="641" cy="399.8" r="2" fill="#9a0a14"/>
<circle cx="650.5" cy="400.1" r="2" fill="#9a0a14"/>
<circle cx="645.9" cy="405.6" r="2" fill="#9a0a14"/>
<rect x="658.9" y="384.5" width="13.1" height="23" fill="#ec5564"/>
<rect x="658.9" y="407.5" width="13.1" height="60.1" fill="#f28a94"/>
<line x1="665.4" y1="380.2" x2="665.4" y2="387.5" stroke="#333" stroke-width="1"/>
<line x1="662.4" y1="380.2" x2="668.4" y2="380.2" stroke="#333" stroke-width="1"/>
<line x1="662.4" y1="387.5" x2="668.4" y2="387.5" stroke="#333" stroke-width="1"/>
<circle cx="665.4" cy="380.2" r="2" fill="#e8202e"/>
<circle cx="660.5" cy="385.5" r="2" fill="#e8202e"/>
<circle cx="670.4" cy="385.5" r="2" fill="#e8202e"/>
<text x="425.07" y="433.02" font-size="17.71" textLength="25.71" lengthAdjust="spacingAndGlyphs" fill="#000" stroke="#000">***</text>
<text x="448.67" y="354.22" font-size="18.29" textLength="17.34" lengthAdjust="spacingAndGlyphs" fill="#000" stroke="#000">**</text>
<text x="481.57" y="433.52" font-size="17.71" textLength="17.24" lengthAdjust="spacingAndGlyphs" fill="#000" stroke="#000">**</text>
<text x="498.07" y="307.12" font-size="18" textLength="25.61" lengthAdjust="spacingAndGlyphs" fill="#000" stroke="#000">***</text>
<text x="532.99" y="396.64" font-size="16.36" textLength="19.69" lengthAdjust="spacingAndGlyphs" fill="#000" stroke="#000">ns</text>
<text x="558.4" y="370.21" font-size="19.14" textLength="7.67" lengthAdjust="spacingAndGlyphs" fill="#000" stroke="#000">*</text>
<text x="584.57" y="398.03" font-size="16.73" textLength="19.91" lengthAdjust="spacingAndGlyphs" fill="#000" stroke="#000">ns</text>
<text x="604.58" y="367.14" font-size="16.18" textLength="19.8" lengthAdjust="spacingAndGlyphs" fill="#000" stroke="#000">ns</text>
<text x="636.67" y="394.54" font-size="15.82" textLength="19.91" lengthAdjust="spacingAndGlyphs" fill="#000" stroke="#000">ns</text>
<text x="656.5" y="372.85" font-size="15.45" textLength="19.46" lengthAdjust="spacingAndGlyphs" fill="#000" stroke="#000">ns</text>
<text x="11.06" y="566.17" font-size="23.09" textLength="13.14" lengthAdjust="spacingAndGlyphs" fill="#000" stroke="#000">e</text>
<text x="335.32" y="531.1" font-size="12.97" textLength="93.54" lengthAdjust="spacingAndGlyphs" fill="#000" stroke="#000">hMDM-NMI</text>
<circle cx="491.9" cy="532.8" r="1.9" fill="#2150d2"/>
<text x="506.52" y="536.6" font-size="11.45" textLength="45.17" lengthAdjust="spacingAndGlyphs" fill="#000" stroke="#000">MAILR</text>
<circle cx="491.9" cy="544" r="1.9" fill="#3388e4"/>
<text x="506.52" y="547.49" font-size="11.13" textLength="74.76" lengthAdjust="spacingAndGlyphs" fill="#000" stroke="#000">LINC01215</text>
<circle cx="491.9" cy="554.7" r="1.9" fill="#58c6ea"/>
<text x="506.52" y="558.19" font-size="11.13" textLength="49.87" lengthAdjust="spacingAndGlyphs" fill="#000" stroke="#000">PACER</text>
<circle cx="491.9" cy="566.4" r="1.9" fill="#6cc75c"/>
<text x="506.51" y="569.89" font-size="11.13" textLength="59.5" lengthAdjust="spacingAndGlyphs" fill="#000" stroke="#000">MROCKI</text>
<circle cx="491.9" cy="576.9" r="1.9" fill="#5b8a4b"/>
<text x="506.52" y="580.39" font-size="11.13" textLength="74.04" lengthAdjust="spacingAndGlyphs" fill="#000" stroke="#000">MIR155HG</text>
<circle cx="491.9" cy="589.2" r="1.9" fill="#22331d"/>
<text x="506.52" y="592.59" font-size="11.13" textLength="74.04" lengthAdjust="spacingAndGlyphs" fill="#000" stroke="#000">MIR222HG</text>
<text transform="translate(139.15,735.45) rotate(-90)" x="0" y="0" font-size="14.55" textLength="172.01" lengthAdjust="spacingAndGlyphs" fill="#000" stroke="#000">Fold Change in Expression</text>
<text transform="translate(161.36,684.16) rotate(-90)" x="0" y="0" font-size="17.33" textLength="74.04" lengthAdjust="spacingAndGlyphs" fill="#000" stroke="#000">(NMI/Mock)</text>
<line x1="203.2" y1="581.3" x2="203.2" y2="628.5" stroke="#1a1a1a" stroke-width="1"/>
<line x1="199.9" y1="628.5" x2="206.6" y2="628.5" stroke="#1a1a1a" stroke-width="1"/>
<line x1="203.2" y1="636.5" x2="203.2" y2="680.3" stroke="#1a1a1a" stroke-width="1"/>
<line x1="199.9" y1="636.5" x2="206.6" y2="636.5" stroke="#1a1a1a" stroke-width="1"/>
<line x1="203.2" y1="688.4" x2="203.2" y2="725.1" stroke="#1a1a1a" stroke-width="1"/>
<line x1="199.9" y1="688.4" x2="204" y2="688.4" stroke="#1a1a1a" stroke-width="1"/>
<line x1="196.6" y1="581.3" x2="203.2" y2="581.3" stroke="#1a1a1a" stroke-width="1"/>
<text x="186.91" y="586.65" font-size="15.22" textLength="8.46" lengthAdjust="spacingAndGlyphs" fill="#000" stroke="#000">4</text>
<line x1="196.6" y1="600.3" x2="203.2" y2="600.3" stroke="#1a1a1a" stroke-width="1"/>
<text x="187.36" y="605.5" font-size="14.79" textLength="8.23" lengthAdjust="spacingAndGlyphs" fill="#000" stroke="#000">3</text>
<line x1="196.6" y1="619.3" x2="203.2" y2="619.3" stroke="#1a1a1a" stroke-width="1"/>
<text x="187.33" y="624.65" font-size="15" textLength="8.34" lengthAdjust="spacingAndGlyphs" fill="#000" stroke="#000">2</text>
<line x1="197.9" y1="636.5" x2="203.2" y2="636.5" stroke="#1a1a1a" stroke-width="1"/>
<text x="169.79" y="641.34" font-size="16" textLength="28.02" lengthAdjust="spacingAndGlyphs" fill="#000" stroke="#000">1.5</text>
<line x1="197.9" y1="658.4" x2="203.2" y2="658.4" stroke="#1a1a1a" stroke-width="1"/>
<text x="169.79" y="663.24" font-size="15.77" textLength="28.02" lengthAdjust="spacingAndGlyphs" fill="#000" stroke="#000">1.0</text>
<line x1="197.9" y1="680.2" x2="203.2" y2="680.2" stroke="#1a1a1a" stroke-width="1"/>
<text x="169.59" y="685.04" font-size="15.77" textLength="28.23" lengthAdjust="spacingAndGlyphs" fill="#000" stroke="#000">0.5</text>
<line x1="197.9" y1="695.8" x2="203.2" y2="695.8" stroke="#1a1a1a" stroke-width="1"/>
<text x="169.59" y="700.64" font-size="15.77" textLength="28.01" lengthAdjust="spacingAndGlyphs" fill="#000" stroke="#000">0.4</text>
<line x1="197.9" y1="710.3" x2="203.2" y2="710.3" stroke="#1a1a1a" stroke-width="1"/>
<text x="169.58" y="715.14" font-size="15.77" textLength="28.44" lengthAdjust="spacingAndGlyphs" fill="#000" stroke="#000">0.2</text>
<line x1="197.9" y1="725.1" x2="203.2" y2="725.1" stroke="#1a1a1a" stroke-width="1"/>
<text x="169.59" y="729.94" font-size="15.77" textLength="28.23" lengthAdjust="spacingAndGlyphs" fill="#000" stroke="#000">0.0</text>
<line x1="202.7" y1="725.1" x2="587.4" y2="725.1" stroke="#1a1a1a" stroke-width="1"/>
<line x1="239.9" y1="725.1" x2="239.9" y2="729.5" stroke="#1a1a1a" stroke-width="1"/>
<text x="229.7" y="743.9" font-size="14.07" textLength="20.76" lengthAdjust="spacingAndGlyphs" fill="#000" stroke="#000">1h</text>
<line x1="317.2" y1="725.1" x2="317.2" y2="729.5" stroke="#1a1a1a" stroke-width="1"/>
<text x="299.36" y="743.9" font-size="14.07" textLength="31.43" lengthAdjust="spacingAndGlyphs" fill="#000" stroke="#000">24h</text>
<line x1="394.8" y1="725.1" x2="394.8" y2="729.5" stroke="#1a1a1a" stroke-width="1"/>
<text x="378.61" y="743.76" font-size="13.88" textLength="32.52" lengthAdjust="spacingAndGlyphs" fill="#000" stroke="#000">48h</text>
<line x1="472.9" y1="725.1" x2="472.9" y2="729.5" stroke="#1a1a1a" stroke-width="1"/>
<text x="456.55" y="743.9" font-size="14.07" textLength="31.76" lengthAdjust="spacingAndGlyphs" fill="#000" stroke="#000">72h</text>
<line x1="549.7" y1="725.1" x2="549.7" y2="729.5" stroke="#1a1a1a" stroke-width="1"/>
<text x="530.29" y="743.76" font-size="13.88" textLength="41.72" lengthAdjust="spacingAndGlyphs" fill="#000" stroke="#000">150h</text>
<text x="362.14" y="760.97" font-size="13.48" textLength="68.42" lengthAdjust="spacingAndGlyphs" fill="#000" stroke="#000">Time p.i.</text>
<rect x="207.25" y="661.45" width="7.2" height="63.65" fill="#8fa3e4" stroke="#3a3a3a" stroke-width="0.9"/>
<rect x="207.7" y="680.6" width="6.3" height="7.7" fill="#fff"/>
<line x1="210.6" y1="654" x2="210.6" y2="669.5" stroke="#333" stroke-width="1"/>
<line x1="207.6" y1="654" x2="213.6" y2="654" stroke="#333" stroke-width="1"/>
<line x1="207.6" y1="669.5" x2="213.6" y2="669.5" stroke="#333" stroke-width="1"/>
<circle cx="210.6" cy="654.2" r="2" fill="#2150d2"/>
<circle cx="210.6" cy="658.3" r="2" fill="#2150d2"/>
<circle cx="210.6" cy="669.5" r="2" fill="#2150d2"/>
<rect x="218.65" y="640.95" width="7.2" height="84.15" fill="#9cc3ef" stroke="#3a3a3a" stroke-width="0.9"/>
<rect x="219.1" y="680.6" width="6.3" height="7.7" fill="#fff"/>
<circle cx="220.4" cy="638.3" r="2" fill="#3388e4"/>
<circle cx="222.9" cy="640.9" r="2" fill="#3388e4"/>
<circle cx="224.8" cy="641.6" r="2" fill="#3388e4"/>
<rect x="230.55" y="712.95" width="7.1" height="12.15" fill="#ace0f1" stroke="#3a3a3a" stroke-width="0.9"/>
<line x1="234.1" y1="703.2" x2="234.1" y2="721.6" stroke="#777" stroke-width="1"/>
<line x1="231.1" y1="703.2" x2="237.1" y2="703.2" stroke="#777" stroke-width="1"/>
<line x1="231.1" y1="721.6" x2="237.1" y2="721.6" stroke="#777" stroke-width="1"/>
<circle cx="234.1" cy="703.2" r="2" fill="#58c6ea"/>
<circle cx="231.2" cy="717.5" r="2" fill="#58c6ea"/>
<circle cx="237.2" cy="716.8" r="2" fill="#58c6ea"/>
<rect x="242.25" y="670.15" width="6.9" height="54.95" fill="#c3e7b6" stroke="#3a3a3a" stroke-width="0.9"/>
<rect x="242.7" y="680.6" width="6" height="7.7" fill="#fff"/>
<circle cx="243.6" cy="668.2" r="2" fill="#6cc75c"/>
<circle cx="247.8" cy="669.8" r="2" fill="#6cc75c"/>
<circle cx="245.5" cy="672.2" r="2" fill="#6cc75c"/>
<rect x="253.75" y="663.35" width="6.9" height="61.75" fill="#a9b898" stroke="#3a3a3a" stroke-width="0.9"/>
<rect x="254.2" y="680.6" width="6" height="7.7" fill="#fff"/>
<circle cx="255" cy="661" r="2" fill="#5b8a4b"/>
<circle cx="259.5" cy="662" r="2" fill="#5b8a4b"/>
<circle cx="257.3" cy="663.9" r="2" fill="#5b8a4b"/>
<rect x="265.55" y="653.45" width="6.9" height="71.65" fill="#8e9581" stroke="#3a3a3a" stroke-width="0.9"/>
<rect x="266" y="653.9" width="6" height="26.3" fill="#4e5a42"/>
<line x1="269" y1="649.2" x2="269" y2="653.6" stroke="#333" stroke-width="1"/>
<line x1="266" y1="649.2" x2="272" y2="649.2" stroke="#333" stroke-width="1"/>
<line x1="266" y1="653.6" x2="272" y2="653.6" stroke="#333" stroke-width="1"/>
<circle cx="269.2" cy="649.4" r="2" fill="#22331d"/>
<circle cx="266.3" cy="653.6" r="2" fill="#22331d"/>
<circle cx="271.9" cy="653.6" r="2" fill="#22331d"/>
<rect x="284.25" y="659.25" width="8" height="65.85" fill="#8fa3e4" stroke="#3a3a3a" stroke-width="0.9"/>
<line x1="288" y1="647.8" x2="288" y2="668.1" stroke="#333" stroke-width="1"/>
<line x1="285" y1="647.8" x2="291" y2="647.8" stroke="#333" stroke-width="1"/>
<line x1="285" y1="668.1" x2="291" y2="668.1" stroke="#333" stroke-width="1"/>
<circle cx="288" cy="647.8" r="2" fill="#2150d2"/>
<circle cx="288" cy="662.3" r="2" fill="#2150d2"/>
<circle cx="288" cy="665.8" r="2" fill="#2150d2"/>
<rect x="283.5" y="680.6" width="9.5" height="7.7" fill="#fff"/>
<rect x="283.5" y="628.5" width="9.5" height="8" fill="#fff"/>
<rect x="296.45" y="655.75" width="7.3" height="69.35" fill="#9cc3ef" stroke="#3a3a3a" stroke-width="0.9"/>
<line x1="300" y1="644.3" x2="300" y2="666.2" stroke="#333" stroke-width="1"/>
<line x1="297" y1="644.3" x2="303" y2="644.3" stroke="#333" stroke-width="1"/>
<line x1="297" y1="666.2" x2="303" y2="666.2" stroke="#333" stroke-width="1"/>
<circle cx="297.9" cy="647.1" r="2" fill="#3388e4"/>
<circle cx="302.1" cy="650.6" r="2" fill="#3388e4"/>
<circle cx="300" cy="667.6" r="2" fill="#3388e4"/>
<rect x="295.7" y="680.6" width="8.8" height="7.7" fill="#fff"/>
<rect x="295.7" y="628.5" width="8.8" height="8" fill="#fff"/>
<rect x="307.65" y="706.65" width="7.7" height="18.45" fill="#ace0f1" stroke="#3a3a3a" stroke-width="0.9"/>
<line x1="311.4" y1="693.3" x2="311.4" y2="717.2" stroke="#777" stroke-width="1"/>
<line x1="308.4" y1="693.3" x2="314.4" y2="693.3" stroke="#777" stroke-width="1"/>
<line x1="308.4" y1="717.2" x2="314.4" y2="717.2" stroke="#777" stroke-width="1"/>
<circle cx="311.4" cy="693.3" r="2" fill="#58c6ea"/>
<circle cx="309.1" cy="711.3" r="2" fill="#58c6ea"/>
<circle cx="313.5" cy="711.3" r="2" fill="#58c6ea"/>
<rect x="306.9" y="680.6" width="9.2" height="7.7" fill="#fff"/>
<rect x="306.9" y="628.5" width="9.2" height="8" fill="#fff"/>
<rect x="319.75" y="607.85" width="7.3" height="117.25" fill="#c3e7b6" stroke="#3a3a3a" stroke-width="0.9"/>
<line x1="323.3" y1="604" x2="323.3" y2="611" stroke="#333" stroke-width="1"/>
<line x1="320.3" y1="604" x2="326.3" y2="604" stroke="#333" stroke-width="1"/>
<line x1="320.3" y1="611" x2="326.3" y2="611" stroke="#333" stroke-width="1"/>
<circle cx="322.4" cy="604.6" r="2" fill="#6cc75c"/>
<circle cx="323.6" cy="612" r="2" fill="#6cc75c"/>
<circle cx="325.5" cy="606" r="2" fill="#6cc75c"/>
<rect x="319" y="680.6" width="8.8" height="7.7" fill="#fff"/>
<rect x="319" y="628.5" width="8.8" height="8" fill="#fff"/>
<rect x="331.75" y="591.05" width="7" height="134.05" fill="#a9b898" stroke="#3a3a3a" stroke-width="0.9"/>
<circle cx="333" cy="591" r="2" fill="#5b8a4b"/>
<circle cx="335.5" cy="590.2" r="2" fill="#5b8a4b"/>
<circle cx="337.8" cy="592.4" r="2" fill="#5b8a4b"/>
<rect x="331" y="680.6" width="8.5" height="7.7" fill="#fff"/>
<rect x="331" y="628.5" width="8.5" height="8" fill="#fff"/>
<rect x="343.15" y="692.45" width="6.8" height="32.65" fill="#8e9581" stroke="#3a3a3a" stroke-width="0.9"/>
<circle cx="344.4" cy="692.3" r="2" fill="#22331d"/>
<circle cx="346.6" cy="691.4" r="2" fill="#22331d"/>
<circle cx="349" cy="692.3" r="2" fill="#22331d"/>
<rect x="342.4" y="680.6" width="8.3" height="7.7" fill="#fff"/>
<rect x="342.4" y="628.5" width="8.3" height="8" fill="#fff"/>
<rect x="362.55" y="702.45" width="6.8" height="22.65" fill="#8fa3e4" stroke="#3a3a3a" stroke-width="0.9"/>
<line x1="366" y1="696.1" x2="366" y2="707" stroke="#333" stroke-width="1"/>
<line x1="363" y1="696.1" x2="369" y2="696.1" stroke="#333" stroke-width="1"/>
<line x1="363" y1="707" x2="369" y2="707" stroke="#333" stroke-width="1"/>
<circle cx="365.6" cy="696.1" r="2" fill="#2150d2"/>
<circle cx="364" cy="705.5" r="2" fill="#2150d2"/>
<circle cx="367.9" cy="705" r="2" fill="#2150d2"/>
<rect x="361.8" y="680.6" width="8.3" height="7.7" fill="#fff"/>
<rect x="361.8" y="628.5" width="8.3" height="8" fill="#fff"/>
<rect x="373.75" y="706.65" width="7.8" height="18.45" fill="#9cc3ef" stroke="#3a3a3a" stroke-width="0.9"/>
<line x1="377.5" y1="696.8" x2="377.5" y2="713" stroke="#333" stroke-width="1"/>
<line x1="374.5" y1="696.8" x2="380.5" y2="696.8" stroke="#333" stroke-width="1"/>
<line x1="374.5" y1="713" x2="380.5" y2="713" stroke="#333" stroke-width="1"/>
<circle cx="377.5" cy="696.8" r="2" fill="#3388e4"/>
<circle cx="375.6" cy="710.2" r="2" fill="#3388e4"/>
<circle cx="378.9" cy="710.2" r="2" fill="#3388e4"/>
<rect x="373" y="680.6" width="9.3" height="7.7" fill="#fff"/>
<rect x="373" y="628.5" width="9.3" height="8" fill="#fff"/>
<rect x="385.45" y="711.75" width="7" height="13.35" fill="#ace0f1" stroke="#3a3a3a" stroke-width="0.9"/>
<line x1="389" y1="706" x2="389" y2="717.2" stroke="#777" stroke-width="1"/>
<line x1="386" y1="706" x2="392" y2="706" stroke="#777" stroke-width="1"/>
<line x1="386" y1="717.2" x2="392" y2="717.2" stroke="#777" stroke-width="1"/>
<circle cx="387.3" cy="707.8" r="2" fill="#58c6ea"/>
<circle cx="392" cy="709" r="2" fill="#58c6ea"/>
<circle cx="389" cy="717.2" r="2" fill="#58c6ea"/>
<rect x="384.7" y="680.6" width="8.5" height="7.7" fill="#fff"/>
<rect x="384.7" y="628.5" width="8.5" height="8" fill="#fff"/>
<rect x="397.15" y="625.35" width="7.2" height="99.75" fill="#c3e7b6" stroke="#3a3a3a" stroke-width="0.9"/>
<circle cx="398.2" cy="625.5" r="2" fill="#6cc75c"/>
<circle cx="400.8" cy="624.4" r="2" fill="#6cc75c"/>
<circle cx="403.2" cy="625.5" r="2" fill="#6cc75c"/>
<rect x="396.4" y="680.6" width="8.7" height="7.7" fill="#fff"/>
<rect x="396.4" y="628.5" width="8.7" height="8" fill="#fff"/>
<rect x="408.75" y="616.75" width="7.3" height="108.35" fill="#a9b898" stroke="#3a3a3a" stroke-width="0.9"/>
<line x1="412.3" y1="609.7" x2="412.3" y2="620.2" stroke="#333" stroke-width="1"/>
<line x1="409.3" y1="609.7" x2="415.3" y2="609.7" stroke="#333" stroke-width="1"/>
<line x1="409.3" y1="620.2" x2="415.3" y2="620.2" stroke="#333" stroke-width="1"/>
<circle cx="412.3" cy="610.2" r="2" fill="#5b8a4b"/>
<circle cx="410" cy="619.5" r="2" fill="#5b8a4b"/>
<circle cx="414.7" cy="619.5" r="2" fill="#5b8a4b"/>
<rect x="408" y="680.6" width="8.8" height="7.7" fill="#fff"/>
<rect x="408" y="628.5" width="8.8" height="8" fill="#fff"/>
<rect x="420.45" y="691.45" width="6.6" height="33.65" fill="#8e9581" stroke="#3a3a3a" stroke-width="0.9"/>
<circle cx="421.8" cy="690.2" r="2" fill="#22331d"/>
<circle cx="424.2" cy="689.5" r="2" fill="#22331d"/>
<circle cx="426.2" cy="691.2" r="2" fill="#22331d"/>
<rect x="419.7" y="680.6" width="8.1" height="7.7" fill="#fff"/>
<rect x="419.7" y="628.5" width="8.1" height="8" fill="#fff"/>
<rect x="439.55" y="698.35" width="7.9" height="26.75" fill="#8fa3e4" stroke="#3a3a3a" stroke-width="0.9"/>
<line x1="443.6" y1="692.9" x2="443.6" y2="702.4" stroke="#333" stroke-width="1"/>
<line x1="440.6" y1="692.9" x2="446.6" y2="692.9" stroke="#333" stroke-width="1"/>
<line x1="440.6" y1="702.4" x2="446.6" y2="702.4" stroke="#333" stroke-width="1"/>
<circle cx="443.6" cy="692.9" r="2" fill="#2150d2"/>
<circle cx="441.3" cy="699" r="2" fill="#2150d2"/>
<circle cx="445.9" cy="699.7" r="2" fill="#2150d2"/>
<rect x="438.8" y="680.6" width="9.4" height="7.7" fill="#fff"/>
<rect x="438.8" y="628.5" width="9.4" height="8" fill="#fff"/>
<rect x="451.25" y="706.75" width="7.5" height="18.35" fill="#9cc3ef" stroke="#3a3a3a" stroke-width="0.9"/>
<line x1="455.2" y1="693.4" x2="455.2" y2="717.1" stroke="#333" stroke-width="1"/>
<line x1="452.2" y1="693.4" x2="458.2" y2="693.4" stroke="#333" stroke-width="1"/>
<line x1="452.2" y1="717.1" x2="458.2" y2="717.1" stroke="#333" stroke-width="1"/>
<circle cx="455.4" cy="693.4" r="2" fill="#3388e4"/>
<circle cx="455.4" cy="707" r="2" fill="#3388e4"/>
<circle cx="455.4" cy="717.1" r="2" fill="#3388e4"/>
<rect x="450.5" y="680.6" width="9" height="7.7" fill="#fff"/>
<rect x="450.5" y="628.5" width="9" height="8" fill="#fff"/>
<rect x="463.75" y="659.85" width="7" height="65.25" fill="#ace0f1" stroke="#3a3a3a" stroke-width="0.9"/>
<line x1="467.2" y1="656" x2="467.2" y2="662" stroke="#777" stroke-width="1"/>
<line x1="464.2" y1="656" x2="470.2" y2="656" stroke="#777" stroke-width="1"/>
<line x1="464.2" y1="662" x2="470.2" y2="662" stroke="#777" stroke-width="1"/>
<circle cx="465.5" cy="657.5" r="2" fill="#58c6ea"/>
<circle cx="469" cy="657.5" r="2" fill="#58c6ea"/>
<circle cx="467.2" cy="662.5" r="2" fill="#58c6ea"/>
<rect x="463" y="680.6" width="8.5" height="7.7" fill="#fff"/>
<rect x="463" y="628.5" width="8.5" height="8" fill="#fff"/>
<rect x="474.55" y="665.55" width="7.5" height="59.55" fill="#c3e7b6" stroke="#3a3a3a" stroke-width="0.9"/>
<circle cx="476.9" cy="662.8" r="2" fill="#6cc75c"/>
<circle cx="479.8" cy="664.5" r="2" fill="#6cc75c"/>
<circle cx="478" cy="666.2" r="2" fill="#6cc75c"/>
<rect x="473.8" y="680.6" width="9" height="7.7" fill="#fff"/>
<rect x="473.8" y="628.5" width="9" height="8" fill="#fff"/>
<rect x="486.35" y="678.45" width="7.5" height="46.65" fill="#a9b898" stroke="#3a3a3a" stroke-width="0.9"/>
<circle cx="487.8" cy="678" r="2" fill="#5b8a4b"/>
<circle cx="490.2" cy="677" r="2" fill="#5b8a4b"/>
<circle cx="492.5" cy="678" r="2" fill="#5b8a4b"/>
<rect x="485.6" y="680.6" width="9" height="7.7" fill="#fff"/>
<rect x="485.6" y="628.5" width="9" height="8" fill="#fff"/>
<rect x="498.15" y="664.85" width="7.7" height="60.25" fill="#8e9581" stroke="#3a3a3a" stroke-width="0.9"/>
<line x1="502" y1="660.7" x2="502" y2="665.1" stroke="#333" stroke-width="1"/>
<line x1="499" y1="660.7" x2="505" y2="660.7" stroke="#333" stroke-width="1"/>
<line x1="499" y1="665.1" x2="505" y2="665.1" stroke="#333" stroke-width="1"/>
<circle cx="500.7" cy="660.9" r="2" fill="#22331d"/>
<circle cx="498.8" cy="664.9" r="2" fill="#22331d"/>
<circle cx="503.2" cy="664.9" r="2" fill="#22331d"/>
<rect x="497.4" y="680.6" width="9.2" height="7.7" fill="#fff"/>
<rect x="497.4" y="628.5" width="9.2" height="8" fill="#fff"/>
<rect x="517.55" y="691.55" width="6.8" height="33.55" fill="#8fa3e4" stroke="#3a3a3a" stroke-width="0.9"/>
<line x1="521" y1="679.8" x2="521" y2="696.8" stroke="#333" stroke-width="1"/>
<line x1="518" y1="679.8" x2="524" y2="679.8" stroke="#333" stroke-width="1"/>
<line x1="518" y1="696.8" x2="524" y2="696.8" stroke="#333" stroke-width="1"/>
<circle cx="521" cy="679.8" r="2" fill="#2150d2"/>
<circle cx="521" cy="690" r="2" fill="#2150d2"/>
<circle cx="521" cy="696.8" r="2" fill="#2150d2"/>
<rect x="516.8" y="680.6" width="8.3" height="7.7" fill="#fff"/>
<rect x="516.8" y="628.5" width="8.3" height="8" fill="#fff"/>
<rect x="528.95" y="667.75" width="7.4" height="57.35" fill="#9cc3ef" stroke="#3a3a3a" stroke-width="0.9"/>
<circle cx="532.3" cy="662.8" r="2" fill="#3388e4"/>
<circle cx="529.6" cy="668.5" r="2" fill="#3388e4"/>
<circle cx="535" cy="668.5" r="2" fill="#3388e4"/>
<rect x="528.2" y="680.6" width="8.9" height="7.7" fill="#fff"/>
<rect x="528.2" y="628.5" width="8.9" height="8" fill="#fff"/>
<rect x="540.65" y="667.75" width="7.5" height="57.35" fill="#ace0f1" stroke="#3a3a3a" stroke-width="0.9"/>
<line x1="544.3" y1="659" x2="544.3" y2="673" stroke="#777" stroke-width="1"/>
<line x1="541.3" y1="659" x2="547.3" y2="659" stroke="#777" stroke-width="1"/>
<line x1="541.3" y1="673" x2="547.3" y2="673" stroke="#777" stroke-width="1"/>
<circle cx="544.3" cy="659" r="2" fill="#58c6ea"/>
<circle cx="541.4" cy="670.3" r="2" fill="#58c6ea"/>
<circle cx="547.5" cy="670.3" r="2" fill="#58c6ea"/>
<rect x="539.9" y="680.6" width="9" height="7.7" fill="#fff"/>
<rect x="539.9" y="628.5" width="9" height="8" fill="#fff"/>
<rect x="552.45" y="706.25" width="7.2" height="18.85" fill="#c3e7b6" stroke="#3a3a3a" stroke-width="0.9"/>
<line x1="556.1" y1="695.6" x2="556.1" y2="714.9" stroke="#777" stroke-width="1"/>
<line x1="553.1" y1="695.6" x2="559.1" y2="695.6" stroke="#777" stroke-width="1"/>
<line x1="553.1" y1="714.9" x2="559.1" y2="714.9" stroke="#777" stroke-width="1"/>
<circle cx="556.1" cy="695.6" r="2" fill="#6cc75c"/>
<circle cx="553.8" cy="710.3" r="2" fill="#6cc75c"/>
<circle cx="558.3" cy="710.3" r="2" fill="#6cc75c"/>
<rect x="551.7" y="680.6" width="8.7" height="7.7" fill="#fff"/>
<rect x="551.7" y="628.5" width="8.7" height="8" fill="#fff"/>
<rect x="563.95" y="673.45" width="7.5" height="51.65" fill="#a9b898" stroke="#3a3a3a" stroke-width="0.9"/>
<circle cx="565.5" cy="671.5" r="2" fill="#5b8a4b"/>
<circle cx="567.8" cy="670.2" r="2" fill="#5b8a4b"/>
<circle cx="570.2" cy="671.5" r="2" fill="#5b8a4b"/>
<rect x="563.2" y="680.6" width="9" height="7.7" fill="#fff"/>
<rect x="563.2" y="628.5" width="9" height="8" fill="#fff"/>
<rect x="575.75" y="662.15" width="7.5" height="62.95" fill="#8e9581" stroke="#3a3a3a" stroke-width="0.9"/>
<line x1="579.1" y1="656.7" x2="579.1" y2="663.9" stroke="#333" stroke-width="1"/>
<line x1="576.1" y1="656.7" x2="582.1" y2="656.7" stroke="#333" stroke-width="1"/>
<line x1="576.1" y1="663.9" x2="582.1" y2="663.9" stroke="#333" stroke-width="1"/>
<circle cx="579.1" cy="656.9" r="2" fill="#22331d"/>
<circle cx="576.9" cy="662.8" r="2" fill="#22331d"/>
<circle cx="581.4" cy="662.8" r="2" fill="#22331d"/>
<rect x="575" y="680.6" width="9" height="7.7" fill="#fff"/>
<rect x="575" y="628.5" width="9" height="8" fill="#fff"/>
<text x="204.14" y="650.62" font-size="8.36" textLength="12.39" lengthAdjust="spacingAndGlyphs" fill="#000" stroke="#000">ns</text>
<text x="216.55" y="634.42" font-size="8.18" textLength="12.17" lengthAdjust="spacingAndGlyphs" fill="#000" stroke="#000">ns</text>
<text x="228.81" y="699.86" font-size="14" textLength="7.56" lengthAdjust="spacingAndGlyphs" fill="#000" stroke="#000">*</text>
<text x="238.94" y="664.32" font-size="8.36" textLength="12.28" lengthAdjust="spacingAndGlyphs" fill="#000" stroke="#000">ns</text>
<text x="251.04" y="656.22" font-size="8.36" textLength="12.39" lengthAdjust="spacingAndGlyphs" fill="#000" stroke="#000">ns</text>
<text x="263.14" y="645.42" font-size="8.36" textLength="12.28" lengthAdjust="spacingAndGlyphs" fill="#000" stroke="#000">ns</text>
<text x="283.05" y="644.31" font-size="8.73" textLength="12.17" lengthAdjust="spacingAndGlyphs" fill="#000" stroke="#000">ns</text>
<text x="294.75" y="640.51" font-size="8.55" textLength="12.17" lengthAdjust="spacingAndGlyphs" fill="#000" stroke="#000">ns</text>
<text x="306.87" y="693.03" font-size="16.86" textLength="8.44" lengthAdjust="spacingAndGlyphs" fill="#000" stroke="#000">*</text>
<text x="310.86" y="604.83" font-size="16.57" textLength="17.76" lengthAdjust="spacingAndGlyphs" fill="#000" stroke="#000">**</text>
<text x="326.75" y="590.23" font-size="16.86" textLength="18.28" lengthAdjust="spacingAndGlyphs" fill="#000" stroke="#000">**</text>
<text x="341.84" y="686.43" font-size="17.43" textLength="27.67" lengthAdjust="spacingAndGlyphs" fill="#000" stroke="#000">***</text>
<text x="363.67" y="694.73" font-size="16.57" textLength="8.66" lengthAdjust="spacingAndGlyphs" fill="#000" stroke="#000">*</text>
<text x="375.26" y="696.63" font-size="16.57" textLength="8.77" lengthAdjust="spacingAndGlyphs" fill="#000" stroke="#000">*</text>
<text x="386.98" y="702.93" font-size="16.57" textLength="8.22" lengthAdjust="spacingAndGlyphs" fill="#000" stroke="#000">*</text>
<text x="389.36" y="623.63" font-size="16.86" textLength="17.55" lengthAdjust="spacingAndGlyphs" fill="#000" stroke="#000">**</text>
<text x="409.67" y="607.63" font-size="16.57" textLength="8.44" lengthAdjust="spacingAndGlyphs" fill="#000" stroke="#000">*</text>
<text x="418.26" y="690.23" font-size="16.86" textLength="17.86" lengthAdjust="spacingAndGlyphs" fill="#000" stroke="#000">**</text>
<text x="437.35" y="678.62" font-size="18" textLength="17.97" lengthAdjust="spacingAndGlyphs" fill="#000" stroke="#000">**</text>
<text x="451.01" y="694.84" font-size="16.29" textLength="7.45" lengthAdjust="spacingAndGlyphs" fill="#000" stroke="#000">*</text>
<text x="460.98" y="647.31" font-size="8.73" textLength="11.72" lengthAdjust="spacingAndGlyphs" fill="#000" stroke="#000">ns</text>
<text x="473.13" y="659.51" font-size="8.55" textLength="12.5" lengthAdjust="spacingAndGlyphs" fill="#000" stroke="#000">ns</text>
<text x="486.1" y="676.42" font-size="18" textLength="7.67" lengthAdjust="spacingAndGlyphs" fill="#000" stroke="#000">*</text>
<text x="495.86" y="656.71" font-size="8.73" textLength="11.94" lengthAdjust="spacingAndGlyphs" fill="#000" stroke="#000">ns</text>
<text x="512.36" y="675.41" font-size="8.73" textLength="11.94" lengthAdjust="spacingAndGlyphs" fill="#000" stroke="#000">ns</text>
<text x="524.76" y="659.51" font-size="8.55" textLength="12.05" lengthAdjust="spacingAndGlyphs" fill="#000" stroke="#000">ns</text>
<text x="538.36" y="650.51" font-size="8.73" textLength="12.05" lengthAdjust="spacingAndGlyphs" fill="#000" stroke="#000">ns</text>
<text x="551.89" y="694.84" font-size="16.29" textLength="8" lengthAdjust="spacingAndGlyphs" fill="#000" stroke="#000">*</text>
<text x="560.93" y="665.21" font-size="8.73" textLength="12.5" lengthAdjust="spacingAndGlyphs" fill="#000" stroke="#000">ns</text>
<text x="573.43" y="652.81" font-size="8.73" textLength="12.5" lengthAdjust="spacingAndGlyphs" fill="#000" stroke="#000">ns</text>
<text x="20.49" y="796.2" font-size="23.03" textLength="7.55" lengthAdjust="spacingAndGlyphs" fill="#000" stroke="#000">f</text>
<text x="326.22" y="793.86" font-size="14.29" textLength="94.76" lengthAdjust="spacingAndGlyphs" fill="#000" stroke="#000">hMDM-LPS</text>
<circle cx="488" cy="798.4" r="1.9" fill="#2150d2"/>
<text x="502.62" y="802.6" font-size="11.88" textLength="45.27" lengthAdjust="spacingAndGlyphs" fill="#000" stroke="#000">MAILR</text>
<circle cx="488" cy="810.5" r="1.9" fill="#3388e4"/>
<text x="502.62" y="814.08" font-size="11.55" textLength="74.45" lengthAdjust="spacingAndGlyphs" fill="#000" stroke="#000">LINC01215</text>
<circle cx="488" cy="822.4" r="1.9" fill="#58c6ea"/>
<text x="502.62" y="825.78" font-size="11.55" textLength="49.66" lengthAdjust="spacingAndGlyphs" fill="#000" stroke="#000">PACER</text>
<circle cx="488" cy="833.8" r="1.9" fill="#6cc75c"/>
<text x="502.62" y="837.58" font-size="11.55" textLength="59.09" lengthAdjust="spacingAndGlyphs" fill="#000" stroke="#000">MROCKI</text>
<circle cx="488" cy="845.7" r="1.9" fill="#5b8a4b"/>
<text x="502.62" y="849.48" font-size="11.55" textLength="73.63" lengthAdjust="spacingAndGlyphs" fill="#000" stroke="#000">MIR155HG</text>
<circle cx="488" cy="857.4" r="1.9" fill="#22331d"/>
<text x="502.62" y="861.38" font-size="11.55" textLength="73.63" lengthAdjust="spacingAndGlyphs" fill="#000" stroke="#000">MIR222HG</text>
<text transform="translate(134.31,992.45) rotate(-90)" x="0" y="0" font-size="14.22" textLength="172.92" lengthAdjust="spacingAndGlyphs" fill="#000" stroke="#000">Fold Change in Expression</text>
<text transform="translate(157.43,943.45) rotate(-90)" x="0" y="0" font-size="17.01" textLength="74.15" lengthAdjust="spacingAndGlyphs" fill="#000" stroke="#000">(LPS/Mock)</text>
<line x1="198.5" y1="829.5" x2="198.5" y2="889.3" stroke="#1a1a1a" stroke-width="1"/>
<line x1="195.3" y1="889.3" x2="201.5" y2="889.3" stroke="#1a1a1a" stroke-width="1"/>
<line x1="198.5" y1="896.8" x2="198.5" y2="946.5" stroke="#1a1a1a" stroke-width="1"/>
<line x1="195.4" y1="896.8" x2="201.5" y2="896.8" stroke="#1a1a1a" stroke-width="1"/>
<line x1="198.5" y1="954.5" x2="198.5" y2="989.4" stroke="#1a1a1a" stroke-width="1"/>
<line x1="195.4" y1="954.5" x2="201.5" y2="954.5" stroke="#1a1a1a" stroke-width="1"/>
<line x1="193.3" y1="829.5" x2="198.5" y2="829.5" stroke="#1a1a1a" stroke-width="1"/>
<text x="182.49" y="834.5" font-size="15.35" textLength="8.54" lengthAdjust="spacingAndGlyphs" fill="#000" stroke="#000">8</text>
<line x1="193.3" y1="847.8" x2="198.5" y2="847.8" stroke="#1a1a1a" stroke-width="1"/>
<text x="182.57" y="852.8" font-size="15.35" textLength="8.54" lengthAdjust="spacingAndGlyphs" fill="#000" stroke="#000">6</text>
<line x1="193.3" y1="866" x2="198.5" y2="866" stroke="#1a1a1a" stroke-width="1"/>
<text x="182.11" y="871.15" font-size="15.8" textLength="8.79" lengthAdjust="spacingAndGlyphs" fill="#000" stroke="#000">4</text>
<line x1="193.3" y1="884.1" x2="198.5" y2="884.1" stroke="#1a1a1a" stroke-width="1"/>
<text x="182.54" y="889.25" font-size="15.57" textLength="8.66" lengthAdjust="spacingAndGlyphs" fill="#000" stroke="#000">2</text>
<line x1="193.3" y1="896.8" x2="198.5" y2="896.8" stroke="#1a1a1a" stroke-width="1"/>
<text x="165.13" y="901.89" font-size="15.86" textLength="27.26" lengthAdjust="spacingAndGlyphs" fill="#000" stroke="#000">1.5</text>
<line x1="193.3" y1="921.3" x2="198.5" y2="921.3" stroke="#1a1a1a" stroke-width="1"/>
<text x="165.13" y="926.39" font-size="15.63" textLength="27.26" lengthAdjust="spacingAndGlyphs" fill="#000" stroke="#000">1.0</text>
<line x1="193.3" y1="946.5" x2="198.5" y2="946.5" stroke="#1a1a1a" stroke-width="1"/>
<text x="164.7" y="951.59" font-size="15.63" textLength="27.7" lengthAdjust="spacingAndGlyphs" fill="#000" stroke="#000">0.5</text>
<line x1="193.3" y1="961.3" x2="198.5" y2="961.3" stroke="#1a1a1a" stroke-width="1"/>
<text x="164.71" y="966.39" font-size="15.63" textLength="27.49" lengthAdjust="spacingAndGlyphs" fill="#000" stroke="#000">0.4</text>
<line x1="193.3" y1="975.5" x2="198.5" y2="975.5" stroke="#1a1a1a" stroke-width="1"/>
<text x="164.7" y="980.59" font-size="15.63" textLength="27.91" lengthAdjust="spacingAndGlyphs" fill="#000" stroke="#000">0.2</text>
<line x1="193.3" y1="989.4" x2="198.5" y2="989.4" stroke="#1a1a1a" stroke-width="1"/>
<text x="164.7" y="994.49" font-size="15.63" textLength="27.7" lengthAdjust="spacingAndGlyphs" fill="#000" stroke="#000">0.0</text>
<line x1="198" y1="989.4" x2="587.6" y2="989.4" stroke="#1a1a1a" stroke-width="1"/>
<line x1="235.5" y1="989.4" x2="235.5" y2="993.4" stroke="#1a1a1a" stroke-width="1"/>
<text x="225.95" y="1008.4" font-size="14.21" textLength="20.07" lengthAdjust="spacingAndGlyphs" fill="#000" stroke="#000">1h</text>
<line x1="314" y1="989.4" x2="314" y2="993.4" stroke="#1a1a1a" stroke-width="1"/>
<text x="295.56" y="1008.4" font-size="14.21" textLength="31.43" lengthAdjust="spacingAndGlyphs" fill="#000" stroke="#000">24h</text>
<line x1="392.6" y1="989.4" x2="392.6" y2="993.4" stroke="#1a1a1a" stroke-width="1"/>
<text x="377.24" y="1008.26" font-size="14.01" textLength="30.93" lengthAdjust="spacingAndGlyphs" fill="#000" stroke="#000">48h</text>
<line x1="471.3" y1="989.4" x2="471.3" y2="993.4" stroke="#1a1a1a" stroke-width="1"/>
<text x="456.06" y="1008.4" font-size="14.21" textLength="31.33" lengthAdjust="spacingAndGlyphs" fill="#000" stroke="#000">72h</text>
<line x1="549.5" y1="989.4" x2="549.5" y2="993.4" stroke="#1a1a1a" stroke-width="1"/>
<text x="528.43" y="1008.26" font-size="14.01" textLength="43.64" lengthAdjust="spacingAndGlyphs" fill="#000" stroke="#000">150h</text>
<text x="348.14" y="1024.69" font-size="12.41" textLength="67.7" lengthAdjust="spacingAndGlyphs" fill="#000" stroke="#000">Time p.i.</text>
<rect x="202.65" y="883.85" width="7.4" height="105.55" fill="#8fa3e4" stroke="#3a3a3a" stroke-width="0.9"/>
<rect x="203.1" y="888.6" width="6.5" height="8" fill="#fff"/>
<rect x="203.1" y="946.9" width="6.5" height="7.4" fill="#fff"/>
<line x1="206.35" y1="879.8" x2="206.35" y2="884.4" stroke="#333" stroke-width="1"/>
<line x1="203.35" y1="879.8" x2="209.35" y2="879.8" stroke="#333" stroke-width="1"/>
<line x1="203.35" y1="884.4" x2="209.35" y2="884.4" stroke="#333" stroke-width="1"/>
<circle cx="206.2" cy="879.8" r="2" fill="#2150d2"/>
<circle cx="204.2" cy="884.4" r="2" fill="#2150d2"/>
<circle cx="208.1" cy="884.4" r="2" fill="#2150d2"/>
<rect x="214.75" y="887.25" width="6.7" height="102.15" fill="#9cc3ef" stroke="#3a3a3a" stroke-width="0.9"/>
<rect x="215.2" y="888.6" width="5.8" height="8" fill="#fff"/>
<rect x="215.2" y="946.9" width="5.8" height="7.4" fill="#fff"/>
<circle cx="215.5" cy="886.3" r="2" fill="#3388e4"/>
<circle cx="218" cy="885.2" r="2" fill="#3388e4"/>
<circle cx="220.5" cy="886.3" r="2" fill="#3388e4"/>
<rect x="226.35" y="887.25" width="7" height="102.15" fill="#ace0f1" stroke="#3a3a3a" stroke-width="0.9"/>
<rect x="226.8" y="888.6" width="6.1" height="8" fill="#fff"/>
<rect x="226.8" y="946.9" width="6.1" height="7.4" fill="#fff"/>
<circle cx="227.3" cy="886.3" r="2" fill="#58c6ea"/>
<circle cx="229.8" cy="884.8" r="2" fill="#58c6ea"/>
<circle cx="232.3" cy="886.3" r="2" fill="#58c6ea"/>
<rect x="237.85" y="884.25" width="7.3" height="105.15" fill="#c3e7b6" stroke="#3a3a3a" stroke-width="0.9"/>
<rect x="238.3" y="888.6" width="6.4" height="8" fill="#fff"/>
<rect x="238.3" y="946.9" width="6.4" height="7.4" fill="#fff"/>
<circle cx="239" cy="881.8" r="2" fill="#6cc75c"/>
<circle cx="243" cy="883.6" r="2" fill="#6cc75c"/>
<circle cx="240.8" cy="885.3" r="2" fill="#6cc75c"/>
<rect x="249.75" y="877.65" width="7.2" height="111.75" fill="#a9b898" stroke="#3a3a3a" stroke-width="0.9"/>
<rect x="250.2" y="888.6" width="6.3" height="8" fill="#fff"/>
<rect x="250.2" y="946.9" width="6.3" height="7.4" fill="#fff"/>
<line x1="253.35" y1="872.6" x2="253.35" y2="883.1" stroke="#333" stroke-width="1"/>
<line x1="250.35" y1="872.6" x2="256.35" y2="872.6" stroke="#333" stroke-width="1"/>
<line x1="250.35" y1="883.1" x2="256.35" y2="883.1" stroke="#333" stroke-width="1"/>
<circle cx="252.8" cy="873.2" r="2" fill="#5b8a4b"/>
<circle cx="252.8" cy="882.4" r="2" fill="#5b8a4b"/>
<circle cx="251" cy="874.6" r="2" fill="#5b8a4b"/>
<rect x="261.85" y="879.85" width="6.9" height="109.55" fill="#8e9581" stroke="#3a3a3a" stroke-width="0.9"/>
<rect x="262.3" y="888.4" width="6" height="8.4" fill="#a3aa96"/>
<rect x="262.3" y="896.8" width="6" height="50.1" fill="#56604a"/>
<line x1="265.3" y1="874.6" x2="265.3" y2="887" stroke="#222" stroke-width="1"/>
<line x1="262.3" y1="874.6" x2="268.3" y2="874.6" stroke="#222" stroke-width="1"/>
<line x1="262.3" y1="887" x2="268.3" y2="887" stroke="#222" stroke-width="1"/>
<circle cx="264.6" cy="875.5" r="2" fill="#22331d"/>
<circle cx="264.6" cy="887" r="2" fill="#22331d"/>
<circle cx="267.2" cy="876.6" r="2" fill="#22331d"/>
<rect x="281.25" y="874.65" width="7.3" height="114.75" fill="#8fa3e4" stroke="#3a3a3a" stroke-width="0.9"/>
<line x1="284.9" y1="866.5" x2="284.9" y2="879.4" stroke="#333" stroke-width="1"/>
<line x1="281.9" y1="866.5" x2="287.9" y2="866.5" stroke="#333" stroke-width="1"/>
<line x1="281.9" y1="879.4" x2="287.9" y2="879.4" stroke="#333" stroke-width="1"/>
<circle cx="284.3" cy="866.5" r="2" fill="#2150d2"/>
<circle cx="282.5" cy="877" r="2" fill="#2150d2"/>
<circle cx="286.2" cy="878.2" r="2" fill="#2150d2"/>
<rect x="280.5" y="946.9" width="8.8" height="7.4" fill="#fff"/>
<rect x="280.5" y="888.6" width="8.8" height="8" fill="#fff"/>
<rect x="292.95" y="877.05" width="7.3" height="112.35" fill="#9cc3ef" stroke="#3a3a3a" stroke-width="0.9"/>
<circle cx="294" cy="876.3" r="2" fill="#3388e4"/>
<circle cx="296.6" cy="875.3" r="2" fill="#3388e4"/>
<circle cx="299.2" cy="876.3" r="2" fill="#3388e4"/>
<rect x="292.2" y="946.9" width="8.8" height="7.4" fill="#fff"/>
<rect x="292.2" y="888.6" width="8.8" height="8" fill="#fff"/>
<rect x="304.65" y="864.65" width="7.3" height="124.75" fill="#ace0f1" stroke="#3a3a3a" stroke-width="0.9"/>
<line x1="308.3" y1="858.4" x2="308.3" y2="870" stroke="#777" stroke-width="1"/>
<line x1="305.3" y1="858.4" x2="311.3" y2="858.4" stroke="#777" stroke-width="1"/>
<line x1="305.3" y1="870" x2="311.3" y2="870" stroke="#777" stroke-width="1"/>
<circle cx="308.4" cy="858.4" r="2" fill="#58c6ea"/>
<circle cx="306.5" cy="867.7" r="2" fill="#58c6ea"/>
<circle cx="310.4" cy="867.9" r="2" fill="#58c6ea"/>
<rect x="303.9" y="946.9" width="8.8" height="7.4" fill="#fff"/>
<rect x="303.9" y="888.6" width="8.8" height="8" fill="#fff"/>
<rect x="316.75" y="866.95" width="7.3" height="122.45" fill="#c3e7b6" stroke="#3a3a3a" stroke-width="0.9"/>
<circle cx="318" cy="866.3" r="2" fill="#6cc75c"/>
<circle cx="320.4" cy="865" r="2" fill="#6cc75c"/>
<circle cx="322.8" cy="866.3" r="2" fill="#6cc75c"/>
<rect x="316" y="946.9" width="8.8" height="7.4" fill="#fff"/>
<rect x="316" y="888.6" width="8.8" height="8" fill="#fff"/>
<rect x="328.45" y="848.95" width="7.3" height="140.45" fill="#a9b898" stroke="#3a3a3a" stroke-width="0.9"/>
<circle cx="329.8" cy="848.6" r="2" fill="#5b8a4b"/>
<circle cx="332" cy="847.8" r="2" fill="#5b8a4b"/>
<circle cx="334.4" cy="848.6" r="2" fill="#5b8a4b"/>
<circle cx="332" cy="852.5" r="2" fill="#5b8a4b"/>
<rect x="327.7" y="946.9" width="8.8" height="7.4" fill="#fff"/>
<rect x="327.7" y="888.6" width="8.8" height="8" fill="#fff"/>
<rect x="340.15" y="858.85" width="7.3" height="130.55" fill="#8e9581" stroke="#3a3a3a" stroke-width="0.9"/>
<line x1="343.8" y1="851.4" x2="343.8" y2="864.2" stroke="#222" stroke-width="1"/>
<line x1="340.8" y1="851.4" x2="346.8" y2="851.4" stroke="#222" stroke-width="1"/>
<line x1="340.8" y1="864.2" x2="346.8" y2="864.2" stroke="#222" stroke-width="1"/>
<circle cx="343.4" cy="851.8" r="2" fill="#22331d"/>
<circle cx="343.4" cy="858.4" r="2" fill="#22331d"/>
<circle cx="343.4" cy="864.2" r="2" fill="#22331d"/>
<rect x="339.4" y="946.9" width="8.8" height="7.4" fill="#fff"/>
<rect x="339.4" y="888.6" width="8.8" height="8" fill="#fff"/>
<rect x="359.55" y="944.05" width="7.3" height="45.35" fill="#8fa3e4" stroke="#3a3a3a" stroke-width="0.9"/>
<circle cx="363.3" cy="941.3" r="2" fill="#2150d2"/>
<circle cx="361.6" cy="944.4" r="2" fill="#2150d2"/>
<circle cx="365" cy="944.4" r="2" fill="#2150d2"/>
<rect x="358.8" y="946.9" width="8.8" height="7.4" fill="#fff"/>
<rect x="358.8" y="888.6" width="8.8" height="8" fill="#fff"/>
<rect x="371.65" y="886.85" width="7.3" height="102.55" fill="#9cc3ef" stroke="#3a3a3a" stroke-width="0.9"/>
<circle cx="373" cy="886" r="2" fill="#3388e4"/>
<circle cx="375.3" cy="884.9" r="2" fill="#3388e4"/>
<circle cx="377.6" cy="886" r="2" fill="#3388e4"/>
<rect x="370.9" y="946.9" width="8.8" height="7.4" fill="#fff"/>
<rect x="370.9" y="888.6" width="8.8" height="8" fill="#fff"/>
<rect x="383.35" y="934.75" width="7.3" height="54.65" fill="#ace0f1" stroke="#3a3a3a" stroke-width="0.9"/>
<line x1="387" y1="930.3" x2="387" y2="937.8" stroke="#777" stroke-width="1"/>
<line x1="384" y1="930.3" x2="390" y2="930.3" stroke="#777" stroke-width="1"/>
<line x1="384" y1="937.8" x2="390" y2="937.8" stroke="#777" stroke-width="1"/>
<circle cx="384.8" cy="930.8" r="2" fill="#58c6ea"/>
<circle cx="389.5" cy="932.6" r="2" fill="#58c6ea"/>
<circle cx="387.1" cy="937.8" r="2" fill="#58c6ea"/>
<rect x="382.6" y="946.9" width="8.8" height="7.4" fill="#fff"/>
<rect x="382.6" y="888.6" width="8.8" height="8" fill="#fff"/>
<rect x="395.05" y="886.35" width="7.3" height="103.05" fill="#c3e7b6" stroke="#3a3a3a" stroke-width="0.9"/>
<line x1="398.7" y1="882.4" x2="398.7" y2="886" stroke="#777" stroke-width="1"/>
<line x1="395.7" y1="882.4" x2="401.7" y2="882.4" stroke="#777" stroke-width="1"/>
<line x1="395.7" y1="886" x2="401.7" y2="886" stroke="#777" stroke-width="1"/>
<circle cx="398.3" cy="882.4" r="2" fill="#6cc75c"/>
<circle cx="396.4" cy="886.2" r="2" fill="#6cc75c"/>
<circle cx="400.4" cy="886.2" r="2" fill="#6cc75c"/>
<rect x="394.3" y="946.9" width="8.8" height="7.4" fill="#fff"/>
<rect x="394.3" y="888.6" width="8.8" height="8" fill="#fff"/>
<rect x="406.75" y="939.45" width="7.3" height="49.95" fill="#a9b898" stroke="#3a3a3a" stroke-width="0.9"/>
<circle cx="408" cy="938.5" r="2" fill="#5b8a4b"/>
<circle cx="410.5" cy="937.2" r="2" fill="#5b8a4b"/>
<circle cx="413" cy="938.5" r="2" fill="#5b8a4b"/>
<rect x="406" y="946.9" width="8.8" height="7.4" fill="#fff"/>
<rect x="406" y="888.6" width="8.8" height="8" fill="#fff"/>
<rect x="418.45" y="913.75" width="7.5" height="75.65" fill="#8e9581" stroke="#3a3a3a" stroke-width="0.9"/>
<line x1="422.2" y1="902.7" x2="422.2" y2="921.9" stroke="#222" stroke-width="1"/>
<line x1="419.2" y1="902.7" x2="425.2" y2="902.7" stroke="#222" stroke-width="1"/>
<line x1="419.2" y1="921.9" x2="425.2" y2="921.9" stroke="#222" stroke-width="1"/>
<circle cx="422.2" cy="902.7" r="2" fill="#22331d"/>
<circle cx="422.2" cy="913.3" r="2" fill="#22331d"/>
<circle cx="422.2" cy="921.9" r="2" fill="#22331d"/>
<rect x="417.7" y="946.9" width="9" height="7.4" fill="#fff"/>
<rect x="417.7" y="888.6" width="9" height="8" fill="#fff"/>
<rect x="438.35" y="935.65" width="7.5" height="53.75" fill="#8fa3e4" stroke="#3a3a3a" stroke-width="0.9"/>
<line x1="442.1" y1="931.2" x2="442.1" y2="941" stroke="#333" stroke-width="1"/>
<line x1="439.1" y1="931.2" x2="445.1" y2="931.2" stroke="#333" stroke-width="1"/>
<line x1="439.1" y1="941" x2="445.1" y2="941" stroke="#333" stroke-width="1"/>
<circle cx="440.5" cy="931.4" r="2" fill="#2150d2"/>
<circle cx="442.6" cy="941" r="2" fill="#2150d2"/>
<circle cx="444.4" cy="932.4" r="2" fill="#2150d2"/>
<rect x="437.6" y="946.9" width="9" height="7.4" fill="#fff"/>
<rect x="437.6" y="888.6" width="9" height="8" fill="#fff"/>
<rect x="450.15" y="935.65" width="7.3" height="53.75" fill="#9cc3ef" stroke="#3a3a3a" stroke-width="0.9"/>
<line x1="453.8" y1="928.1" x2="453.8" y2="941" stroke="#333" stroke-width="1"/>
<line x1="450.8" y1="928.1" x2="456.8" y2="928.1" stroke="#333" stroke-width="1"/>
<line x1="450.8" y1="941" x2="456.8" y2="941" stroke="#333" stroke-width="1"/>
<circle cx="453.6" cy="928.1" r="2" fill="#3388e4"/>
<circle cx="451.8" cy="939.7" r="2" fill="#3388e4"/>
<circle cx="455.9" cy="939" r="2" fill="#3388e4"/>
<rect x="449.4" y="946.9" width="8.8" height="7.4" fill="#fff"/>
<rect x="449.4" y="888.6" width="8.8" height="8" fill="#fff"/>
<rect x="461.95" y="929.05" width="7.5" height="60.35" fill="#ace0f1" stroke="#3a3a3a" stroke-width="0.9"/>
<circle cx="463.2" cy="928.3" r="2" fill="#58c6ea"/>
<circle cx="465.7" cy="927.1" r="2" fill="#58c6ea"/>
<circle cx="468.2" cy="928.3" r="2" fill="#58c6ea"/>
<rect x="461.2" y="946.9" width="9" height="7.4" fill="#fff"/>
<rect x="461.2" y="888.6" width="9" height="8" fill="#fff"/>
<rect x="473.85" y="905.45" width="7.5" height="83.95" fill="#c3e7b6" stroke="#3a3a3a" stroke-width="0.9"/>
<circle cx="475.2" cy="905" r="2" fill="#6cc75c"/>
<circle cx="477.6" cy="903.8" r="2" fill="#6cc75c"/>
<circle cx="480" cy="905" r="2" fill="#6cc75c"/>
<rect x="473.1" y="946.9" width="9" height="7.4" fill="#fff"/>
<rect x="473.1" y="888.6" width="9" height="8" fill="#fff"/>
<rect x="485.65" y="923.85" width="7.5" height="65.55" fill="#a9b898" stroke="#3a3a3a" stroke-width="0.9"/>
<circle cx="487" cy="923.2" r="2" fill="#5b8a4b"/>
<circle cx="489.4" cy="922.2" r="2" fill="#5b8a4b"/>
<circle cx="491.8" cy="923.2" r="2" fill="#5b8a4b"/>
<rect x="484.9" y="946.9" width="9" height="7.4" fill="#fff"/>
<rect x="484.9" y="888.6" width="9" height="8" fill="#fff"/>
<rect x="497.45" y="930.35" width="7.5" height="59.05" fill="#8e9581" stroke="#3a3a3a" stroke-width="0.9"/>
<line x1="501.2" y1="926.8" x2="501.2" y2="935.2" stroke="#222" stroke-width="1"/>
<line x1="498.2" y1="926.8" x2="504.2" y2="926.8" stroke="#222" stroke-width="1"/>
<line x1="498.2" y1="935.2" x2="504.2" y2="935.2" stroke="#222" stroke-width="1"/>
<circle cx="499.6" cy="926.8" r="2" fill="#22331d"/>
<circle cx="502.3" cy="935.2" r="2" fill="#22331d"/>
<circle cx="503" cy="927.8" r="2" fill="#22331d"/>
<rect x="496.7" y="946.9" width="9" height="7.4" fill="#fff"/>
<rect x="496.7" y="888.6" width="9" height="8" fill="#fff"/>
<rect x="516.65" y="905.95" width="7.5" height="83.45" fill="#8fa3e4" stroke="#3a3a3a" stroke-width="0.9"/>
<line x1="520.4" y1="898.9" x2="520.4" y2="909.4" stroke="#333" stroke-width="1"/>
<line x1="517.4" y1="898.9" x2="523.4" y2="898.9" stroke="#333" stroke-width="1"/>
<line x1="517.4" y1="909.4" x2="523.4" y2="909.4" stroke="#333" stroke-width="1"/>
<circle cx="520.6" cy="898.9" r="2" fill="#2150d2"/>
<circle cx="518.8" cy="906.3" r="2" fill="#2150d2"/>
<circle cx="522.5" cy="907.6" r="2" fill="#2150d2"/>
<rect x="515.9" y="946.9" width="9" height="7.4" fill="#fff"/>
<rect x="515.9" y="888.6" width="9" height="8" fill="#fff"/>
<rect x="528.95" y="919.85" width="7.3" height="69.55" fill="#9cc3ef" stroke="#3a3a3a" stroke-width="0.9"/>
<line x1="532.6" y1="915.5" x2="532.6" y2="925.2" stroke="#333" stroke-width="1"/>
<line x1="529.6" y1="915.5" x2="535.6" y2="915.5" stroke="#333" stroke-width="1"/>
<line x1="529.6" y1="925.2" x2="535.6" y2="925.2" stroke="#333" stroke-width="1"/>
<circle cx="532" cy="915.5" r="2" fill="#3388e4"/>
<circle cx="531.2" cy="925.2" r="2" fill="#3388e4"/>
<circle cx="534.2" cy="917" r="2" fill="#3388e4"/>
<rect x="528.2" y="946.9" width="8.8" height="7.4" fill="#fff"/>
<rect x="528.2" y="888.6" width="8.8" height="8" fill="#fff"/>
<rect x="540.85" y="938.75" width="6.9" height="50.65" fill="#ace0f1" stroke="#3a3a3a" stroke-width="0.9"/>
<line x1="544.3" y1="931.2" x2="544.3" y2="944.4" stroke="#777" stroke-width="1"/>
<line x1="541.3" y1="931.2" x2="547.3" y2="931.2" stroke="#777" stroke-width="1"/>
<line x1="541.3" y1="944.4" x2="547.3" y2="944.4" stroke="#777" stroke-width="1"/>
<circle cx="543.8" cy="931.2" r="2" fill="#58c6ea"/>
<circle cx="542.5" cy="943" r="2" fill="#58c6ea"/>
<circle cx="545.6" cy="943" r="2" fill="#58c6ea"/>
<rect x="540.1" y="946.9" width="8.4" height="7.4" fill="#fff"/>
<rect x="540.1" y="888.6" width="8.4" height="8" fill="#fff"/>
<rect x="551.85" y="906.75" width="7.8" height="82.65" fill="#c3e7b6" stroke="#3a3a3a" stroke-width="0.9"/>
<line x1="555.75" y1="898.9" x2="555.75" y2="914.2" stroke="#777" stroke-width="1"/>
<line x1="552.75" y1="898.9" x2="558.75" y2="898.9" stroke="#777" stroke-width="1"/>
<line x1="552.75" y1="914.2" x2="558.75" y2="914.2" stroke="#777" stroke-width="1"/>
<circle cx="555.6" cy="898.9" r="2" fill="#6cc75c"/>
<circle cx="555.6" cy="906.3" r="2" fill="#6cc75c"/>
<circle cx="555.6" cy="914.2" r="2" fill="#6cc75c"/>
<rect x="551.1" y="946.9" width="9.3" height="7.4" fill="#fff"/>
<rect x="551.1" y="888.6" width="9.3" height="8" fill="#fff"/>
<rect x="563.95" y="932.95" width="7.5" height="56.45" fill="#a9b898" stroke="#3a3a3a" stroke-width="0.9"/>
<circle cx="565.3" cy="932.4" r="2" fill="#5b8a4b"/>
<circle cx="567.7" cy="931.2" r="2" fill="#5b8a4b"/>
<circle cx="570.1" cy="932.4" r="2" fill="#5b8a4b"/>
<rect x="563.2" y="946.9" width="9" height="7.4" fill="#fff"/>
<rect x="563.2" y="888.6" width="9" height="8" fill="#fff"/>
<rect x="575.75" y="970.35" width="7.5" height="19.05" fill="#8e9581" stroke="#3a3a3a" stroke-width="0.9"/>
<circle cx="577.2" cy="969.6" r="2" fill="#22331d"/>
<circle cx="579.5" cy="968.6" r="2" fill="#22331d"/>
<circle cx="581.8" cy="969.6" r="2" fill="#22331d"/>
<rect x="575" y="946.9" width="9" height="7.4" fill="#fff"/>
<rect x="575" y="888.6" width="9" height="8" fill="#fff"/>
<text x="201.9" y="878.65" font-size="14.86" textLength="7.67" lengthAdjust="spacingAndGlyphs" fill="#000" stroke="#000">*</text>
<text x="213.98" y="879.05" font-size="15.14" textLength="8.33" lengthAdjust="spacingAndGlyphs" fill="#000" stroke="#000">*</text>
<text x="225.98" y="879.05" font-size="15.14" textLength="8.22" lengthAdjust="spacingAndGlyphs" fill="#000" stroke="#000">*</text>
<text x="231.16" y="866.45" font-size="14.86" textLength="17.86" lengthAdjust="spacingAndGlyphs" fill="#000" stroke="#000">**</text>
<text x="243.65" y="874.74" font-size="16" textLength="18.18" lengthAdjust="spacingAndGlyphs" fill="#000" stroke="#000">**</text>
<text x="259.04" y="863.44" font-size="16.29" textLength="18.49" lengthAdjust="spacingAndGlyphs" fill="#000" stroke="#000">**</text>
<text x="279.6" y="871.03" font-size="16.86" textLength="7.89" lengthAdjust="spacingAndGlyphs" fill="#000" stroke="#000">*</text>
<text x="288.66" y="865.33" font-size="16.57" textLength="17.45" lengthAdjust="spacingAndGlyphs" fill="#000" stroke="#000">**</text>
<text x="304.08" y="854.04" font-size="16" textLength="8.33" lengthAdjust="spacingAndGlyphs" fill="#000" stroke="#000">*</text>
<text x="311.46" y="865.64" font-size="16.29" textLength="17.45" lengthAdjust="spacingAndGlyphs" fill="#000" stroke="#000">**</text>
<text x="318.25" y="843.54" font-size="16" textLength="27.36" lengthAdjust="spacingAndGlyphs" fill="#000" stroke="#000">***</text>
<text x="339.29" y="854.83" font-size="16.57" textLength="8" lengthAdjust="spacingAndGlyphs" fill="#000" stroke="#000">*</text>
<text x="357.85" y="937.51" font-size="9.09" textLength="12.17" lengthAdjust="spacingAndGlyphs" fill="#000" stroke="#000">ns</text>
<text x="367.66" y="885.13" font-size="16.86" textLength="17.55" lengthAdjust="spacingAndGlyphs" fill="#000" stroke="#000">**</text>
<text x="381.25" y="926.81" font-size="9.09" textLength="12.17" lengthAdjust="spacingAndGlyphs" fill="#000" stroke="#000">ns</text>
<text x="394.27" y="884.32" font-size="18" textLength="8.44" lengthAdjust="spacingAndGlyphs" fill="#000" stroke="#000">*</text>
<text x="405.05" y="932.61" font-size="9.09" textLength="12.17" lengthAdjust="spacingAndGlyphs" fill="#000" stroke="#000">ns</text>
<text x="416.75" y="898.31" font-size="9.09" textLength="12.17" lengthAdjust="spacingAndGlyphs" fill="#000" stroke="#000">ns</text>
<text x="436.65" y="926.91" font-size="9.09" textLength="12.17" lengthAdjust="spacingAndGlyphs" fill="#000" stroke="#000">ns</text>
<text x="446.33" y="918.51" font-size="9.09" textLength="12.5" lengthAdjust="spacingAndGlyphs" fill="#000" stroke="#000">ns</text>
<text x="459.44" y="923.81" font-size="9.09" textLength="12.28" lengthAdjust="spacingAndGlyphs" fill="#000" stroke="#000">ns</text>
<text x="470.75" y="900.71" font-size="9.09" textLength="12.17" lengthAdjust="spacingAndGlyphs" fill="#000" stroke="#000">ns</text>
<text x="483.13" y="915.91" font-size="9.09" textLength="12.5" lengthAdjust="spacingAndGlyphs" fill="#000" stroke="#000">ns</text>
<text x="495.43" y="922.21" font-size="9.09" textLength="12.5" lengthAdjust="spacingAndGlyphs" fill="#000" stroke="#000">ns</text>
<text x="514.63" y="894.91" font-size="9.09" textLength="12.5" lengthAdjust="spacingAndGlyphs" fill="#000" stroke="#000">ns</text>
<text x="526.93" y="911.71" font-size="9.09" textLength="12.5" lengthAdjust="spacingAndGlyphs" fill="#000" stroke="#000">ns</text>
<text x="538.23" y="926.41" font-size="9.09" textLength="12.5" lengthAdjust="spacingAndGlyphs" fill="#000" stroke="#000">ns</text>
<text x="550.13" y="896.71" font-size="9.09" textLength="12.5" lengthAdjust="spacingAndGlyphs" fill="#000" stroke="#000">ns</text>
<text x="562.75" y="928.31" font-size="9.09" textLength="12.17" lengthAdjust="spacingAndGlyphs" fill="#000" stroke="#000">ns</text>
<text x="571.55" y="967.13" font-size="16.57" textLength="36.35" lengthAdjust="spacingAndGlyphs" fill="#000" stroke="#000">****</text>
<text x="13.64" y="1038.91" font-size="21.88" textLength="14.71" lengthAdjust="spacingAndGlyphs" fill="#000" stroke="#000">g</text>
<rect x="96.1" y="1057.8" width="36.65" height="8.8" fill="#fbfbd6"/>
<text x="104.62" y="1052.96" font-size="14.37" textLength="23.77" lengthAdjust="spacingAndGlyphs" fill="#000" stroke="#000">0.0</text>
<rect x="132.75" y="1057.8" width="36.65" height="8.8" fill="#d3ecb5"/>
<text x="141.44" y="1053.1" font-size="14.78" textLength="21.56" lengthAdjust="spacingAndGlyphs" fill="#000" stroke="#000">1.1</text>
<rect x="169.4" y="1057.8" width="36.65" height="8.8" fill="#6dc4bd"/>
<text x="176.86" y="1052.96" font-size="14.37" textLength="25.57" lengthAdjust="spacingAndGlyphs" fill="#000" stroke="#000">3.5</text>
<rect x="206.05" y="1057.8" width="36.65" height="8.8" fill="#2b96c4"/>
<text x="214" y="1052.96" font-size="14.37" textLength="24.81" lengthAdjust="spacingAndGlyphs" fill="#000" stroke="#000">8.6</text>
<rect x="242.7" y="1057.8" width="36.65" height="8.8" fill="#2c4fa1"/>
<text x="253.14" y="1052.96" font-size="14.37" textLength="17.19" lengthAdjust="spacingAndGlyphs" fill="#000" stroke="#000">19</text>
<rect x="279.35" y="1057.8" width="36.65" height="8.8" fill="#0e1f5c"/>
<text x="288.88" y="1053.1" font-size="14.57" textLength="18.81" lengthAdjust="spacingAndGlyphs" fill="#000" stroke="#000">42</text>
<text x="61.01" y="1068.6" font-size="14.2" textLength="30.46" lengthAdjust="spacingAndGlyphs" fill="#000" stroke="#000">TPM</text>
<rect x="96.9" y="1073.3" width="21.5" height="9.3" rx="1.8" fill="#fafad4"/>
<rect x="96.9" y="1083.9" width="21.5" height="9.9" rx="1.8" fill="#b2deb6"/>
<rect x="96.9" y="1094.8" width="21.5" height="9.8" rx="1.8" fill="#c5e7b6"/>
<rect x="96.9" y="1110" width="21.9" height="5.4" fill="#eeee00"/>
<rect x="119.85" y="1073.3" width="21.5" height="9.3" rx="1.8" fill="#fafad4"/>
<rect x="119.85" y="1083.9" width="21.5" height="9.9" rx="1.8" fill="#a8dab8"/>
<rect x="119.85" y="1094.8" width="21.5" height="9.8" rx="1.8" fill="#c8e8b4"/>
<rect x="119.85" y="1110" width="21.9" height="5.4" fill="#eeee00"/>
<rect x="142.8" y="1073.3" width="21.5" height="9.3" rx="1.8" fill="#f8f8d0"/>
<rect x="142.8" y="1083.9" width="21.5" height="9.9" rx="1.8" fill="#68c1bd"/>
<rect x="142.8" y="1094.8" width="21.5" height="9.8" rx="1.8" fill="#bde4b6"/>
<rect x="142.8" y="1110" width="21.9" height="5.4" fill="#eeee00"/>
<rect x="165.75" y="1073.3" width="21.5" height="9.3" rx="1.8" fill="#fbfbd8"/>
<rect x="165.75" y="1083.9" width="21.5" height="9.9" rx="1.8" fill="#e6f2bf"/>
<rect x="165.75" y="1094.8" width="21.5" height="9.8" rx="1.8" fill="#c2e6b4"/>
<rect x="165.75" y="1110" width="21.9" height="5.4" fill="#eeee00"/>
<rect x="188.7" y="1073.3" width="21.5" height="9.3" rx="1.8" fill="#fbfbd8"/>
<rect x="188.7" y="1083.9" width="21.5" height="9.9" rx="1.8" fill="#d6ecb6"/>
<rect x="188.7" y="1094.8" width="21.5" height="9.8" rx="1.8" fill="#c3e6b5"/>
<rect x="188.7" y="1110" width="21.9" height="5.4" fill="#eeee00"/>
<rect x="211.65" y="1073.3" width="21.5" height="9.3" rx="1.8" fill="#eef5c4"/>
<rect x="211.65" y="1083.9" width="21.5" height="9.9" rx="1.8" fill="#93d2bb"/>
<rect x="211.65" y="1094.8" width="21.5" height="9.8" rx="1.8" fill="#bfe5b5"/>
<rect x="211.65" y="1110" width="21.9" height="5.4" fill="#eeee00"/>
<rect x="234.6" y="1073.3" width="21.5" height="9.3" rx="1.8" fill="#eff5c6"/>
<rect x="234.6" y="1083.9" width="21.5" height="9.9" rx="1.8" fill="#a3d9b9"/>
<rect x="234.6" y="1094.8" width="21.5" height="9.8" rx="1.8" fill="#c0e6b6"/>
<rect x="234.6" y="1110" width="21.9" height="5.4" fill="#eeee00"/>
<rect x="257.55" y="1073.3" width="21.5" height="9.3" rx="1.8" fill="#fafad4"/>
<rect x="257.55" y="1083.9" width="21.5" height="9.9" rx="1.8" fill="#a6dab8"/>
<rect x="257.55" y="1094.8" width="21.5" height="9.8" rx="1.8" fill="#b0dcb6"/>
<rect x="257.55" y="1110" width="21.9" height="5.4" fill="#eeee00"/>
<rect x="280.5" y="1073.3" width="21.5" height="9.3" rx="1.8" fill="#fafad4"/>
<rect x="280.5" y="1083.9" width="21.5" height="9.9" rx="1.8" fill="#a6dab8"/>
<rect x="280.5" y="1094.8" width="21.5" height="9.8" rx="1.8" fill="#c8e8b4"/>
<rect x="280.5" y="1110" width="21.9" height="5.4" fill="#eeee00"/>
<rect x="303.45" y="1073.3" width="21.5" height="9.3" rx="1.8" fill="#fafad4"/>
<rect x="303.45" y="1083.9" width="21.5" height="9.9" rx="1.8" fill="#a6dab8"/>
<rect x="303.45" y="1094.8" width="21.5" height="9.8" rx="1.8" fill="#b8e0b6"/>
<rect x="303.45" y="1110" width="21.9" height="5.4" fill="#eeee00"/>
<rect x="326.4" y="1073.3" width="21.5" height="9.3" rx="1.8" fill="#fafad4"/>
<rect x="326.4" y="1083.9" width="21.5" height="9.9" rx="1.8" fill="#64c0bc"/>
<rect x="326.4" y="1094.8" width="21.5" height="9.8" rx="1.8" fill="#c8e8b4"/>
<rect x="326.4" y="1110" width="21.9" height="5.4" fill="#eeee00"/>
<rect x="349.35" y="1073.3" width="21.5" height="9.3" rx="1.8" fill="#fafad4"/>
<rect x="349.35" y="1083.9" width="21.5" height="9.9" rx="1.8" fill="#78c8bc"/>
<rect x="349.35" y="1094.8" width="21.5" height="9.8" rx="1.8" fill="#68c0bc"/>
<rect x="349.35" y="1110" width="21.9" height="5.4" fill="#eeee00"/>
<rect x="372.3" y="1073.3" width="21.5" height="9.3" rx="1.8" fill="#fafad6"/>
<rect x="372.3" y="1083.9" width="21.5" height="9.9" rx="1.8" fill="#a6dab8"/>
<rect x="372.3" y="1094.8" width="21.5" height="9.8" rx="1.8" fill="#bce2b6"/>
<rect x="372.3" y="1110" width="21.9" height="5.4" fill="#eeee00"/>
<rect x="395.25" y="1073.3" width="21.5" height="9.3" rx="1.8" fill="#e4f2bc"/>
<rect x="395.25" y="1083.9" width="21.5" height="9.9" rx="1.8" fill="#1a2a78"/>
<rect x="395.25" y="1094.8" width="21.5" height="9.8" rx="1.8" fill="#1a2a78"/>
<rect x="395.25" y="1110" width="21.9" height="5.4" fill="#33cccc"/>
<rect x="418.2" y="1073.3" width="21.5" height="9.3" rx="1.8" fill="#f0f6c8"/>
<rect x="418.2" y="1083.9" width="21.5" height="9.9" rx="1.8" fill="#22449a"/>
<rect x="418.2" y="1094.8" width="21.5" height="9.8" rx="1.8" fill="#3aa6c6"/>
<rect x="418.2" y="1110" width="21.9" height="5.4" fill="#9900ff"/>
<rect x="441.15" y="1073.3" width="21.5" height="9.3" rx="1.8" fill="#f6f8d0"/>
<rect x="441.15" y="1083.9" width="21.5" height="9.9" rx="1.8" fill="#3aa2c8"/>
<rect x="441.15" y="1094.8" width="21.5" height="9.8" rx="1.8" fill="#6cc4bc"/>
<rect x="441.15" y="1110" width="21.9" height="5.4" fill="#660099"/>
<rect x="464.1" y="1073.3" width="21.5" height="9.3" rx="1.8" fill="#f6f8d0"/>
<rect x="464.1" y="1083.9" width="21.5" height="9.9" rx="1.8" fill="#2a90c0"/>
<rect x="464.1" y="1094.8" width="21.5" height="9.8" rx="1.8" fill="#74c8bc"/>
<rect x="464.1" y="1110" width="21.9" height="5.4" fill="#22ffdd"/>
<rect x="487.05" y="1073.3" width="21.5" height="9.3" rx="1.8" fill="#e8f2c0"/>
<rect x="487.05" y="1083.9" width="21.5" height="9.9" rx="1.8" fill="#22449a"/>
<rect x="487.05" y="1094.8" width="21.5" height="9.8" rx="1.8" fill="#44aac4"/>
<rect x="487.05" y="1110" width="21.9" height="5.4" fill="#33ffcc"/>
<rect x="510" y="1073.3" width="21.5" height="9.3" rx="1.8" fill="#fafad4"/>
<rect x="510" y="1083.9" width="21.5" height="9.9" rx="1.8" fill="#98d4bc"/>
<rect x="510" y="1094.8" width="21.5" height="9.8" rx="1.8" fill="#2a8cc0"/>
<rect x="510" y="1110" width="21.9" height="5.4" fill="#aabb66"/>
<rect x="532.95" y="1073.3" width="21.5" height="9.3" rx="1.8" fill="#eef5c6"/>
<rect x="532.95" y="1083.9" width="21.5" height="9.9" rx="1.8" fill="#22368e"/>
<rect x="532.95" y="1094.8" width="21.5" height="9.8" rx="1.8" fill="#0c1e5a"/>
<rect x="532.95" y="1110" width="21.9" height="5.4" fill="#99ff00"/>
<rect x="555.9" y="1073.3" width="21.5" height="9.3" rx="1.8" fill="#dcefb8"/>
<rect x="555.9" y="1083.9" width="21.5" height="9.9" rx="1.8" fill="#22409a"/>
<rect x="555.9" y="1094.8" width="21.5" height="9.8" rx="1.8" fill="#2a6cb0"/>
<rect x="555.9" y="1110" width="21.9" height="5.4" fill="#778855"/>
<rect x="578.85" y="1073.3" width="21.5" height="9.3" rx="1.8" fill="#f0f6c8"/>
<rect x="578.85" y="1083.9" width="21.5" height="9.9" rx="1.8" fill="#2a8cbe"/>
<rect x="578.85" y="1094.8" width="21.5" height="9.8" rx="1.8" fill="#68c2bc"/>
<rect x="578.85" y="1110" width="21.9" height="5.4" fill="#ff00bb"/>
<text x="604.66" y="1083.18" font-size="12.25" textLength="77.4" lengthAdjust="spacingAndGlyphs" fill="#000" stroke="#000">CYP1B1-AS1</text>
<text x="604.67" y="1094.58" font-size="12.25" textLength="48.3" lengthAdjust="spacingAndGlyphs" fill="#000" stroke="#000">CYP1B1</text>
<text x="605.24" y="1105.8" font-size="12.61" textLength="26.96" lengthAdjust="spacingAndGlyphs" fill="#000" stroke="#000">AHR</text>
<line x1="4.4" y1="1078.4" x2="87.2" y2="1078.4" stroke="#7a7a7a" stroke-width="1.1"/>
<line x1="4.4" y1="1078.4" x2="4.4" y2="1094.2" stroke="#7a7a7a" stroke-width="1.1"/>
<line x1="4.4" y1="1094.2" x2="59.1" y2="1094.2" stroke="#7a7a7a" stroke-width="1.1"/>
<line x1="59.1" y1="1088.8" x2="59.1" y2="1099.6" stroke="#7a7a7a" stroke-width="1.1"/>
<line x1="59.1" y1="1088.8" x2="87.2" y2="1088.8" stroke="#7a7a7a" stroke-width="1.1"/>
<line x1="59.1" y1="1099.6" x2="87.2" y2="1099.6" stroke="#7a7a7a" stroke-width="1.1"/>
<circle cx="59.1" cy="1094.2" r="1.7" fill="#6a6a6a"/>
<line x1="4.4" y1="1106.1" x2="87.6" y2="1106.1" stroke="#9a9a9a" stroke-width="1.1"/>
<line x1="4.4" y1="1106.1" x2="4.4" y2="1110.5" stroke="#9a9a9a" stroke-width="1.1"/>
<line x1="29.9" y1="1106.1" x2="29.9" y2="1110.5" stroke="#9a9a9a" stroke-width="1.1"/>
<line x1="54.7" y1="1106.1" x2="54.7" y2="1110.5" stroke="#9a9a9a" stroke-width="1.1"/>
<line x1="80" y1="1106.1" x2="80" y2="1110.5" stroke="#9a9a9a" stroke-width="1.1"/>
<line x1="87.6" y1="1106.1" x2="87.6" y2="1110.5" stroke="#9a9a9a" stroke-width="1.1"/>
<text x="-0.35" y="1125.83" font-size="17.04" textLength="9.02" lengthAdjust="spacingAndGlyphs" fill="#555" stroke="#555">0</text>
<text x="25.07" y="1126" font-size="17.54" textLength="6.9" lengthAdjust="spacingAndGlyphs" fill="#555" stroke="#555">1</text>
<text x="48.63" y="1126" font-size="17.29" textLength="10.76" lengthAdjust="spacingAndGlyphs" fill="#555" stroke="#555">2</text>
<text x="74.49" y="1125.83" font-size="17.04" textLength="9.82" lengthAdjust="spacingAndGlyphs" fill="#555" stroke="#555">3</text>
<text transform="translate(102,1124.6) rotate(30)" font-size="13" stroke="#000">Amygdala</text>
<text transform="translate(125.05,1124.6) rotate(30)" font-size="13" stroke="#000">Anterior qcingulate cortex (BA24)</text>
<text transform="translate(148.1,1124.6) rotate(30)" font-size="13" stroke="#000">Caudate</text>
<text transform="translate(171.15,1124.6) rotate(30)" font-size="13" stroke="#000">Cerebellar Hemisphere</text>
<text transform="translate(194.2,1124.6) rotate(30)" font-size="13" stroke="#000">Cerebellum</text>
<text transform="translate(217.25,1124.6) rotate(30)" font-size="13" stroke="#000">Cortex</text>
<text transform="translate(240.3,1124.6) rotate(30)" font-size="13" stroke="#000">Frontal Cortex (BA9)</text>
<text transform="translate(263.35,1124.6) rotate(30)" font-size="13" stroke="#000">Hippocampus</text>
<text transform="translate(286.4,1124.6) rotate(30)" font-size="13" stroke="#000">Hypothalamus</text>
<text transform="translate(309.45,1124.6) rotate(30)" font-size="13" stroke="#000">Nucleus accumbens</text>
<text transform="translate(332.5,1124.6) rotate(30)" font-size="13" stroke="#000">Putamen</text>
<text transform="translate(355.55,1124.6) rotate(30)" font-size="13" stroke="#000">Spinal cord (cervical c-1)</text>
<text transform="translate(378.6,1124.6) rotate(30)" font-size="13" stroke="#000">Brain - Substantia nigra</text>
<text transform="translate(401.65,1124.6) rotate(30)" font-size="13" stroke="#000">Mammary Tissue</text>
<text transform="translate(424.7,1124.6) rotate(30)" font-size="13" stroke="#000">Heart - Atrial Appendage</text>
<text transform="translate(447.75,1124.6) rotate(30)" font-size="13" stroke="#000">Heart - Left Ventricle</text>
<text transform="translate(470.8,1124.6) rotate(30)" font-size="13" stroke="#000">Kidney - Cortex</text>
<text transform="translate(493.85,1124.6) rotate(30)" font-size="13" stroke="#000">Kidney - Medulla</text>
<text transform="translate(516.9,1124.6) rotate(30)" font-size="13" stroke="#000">Liver</text>
<text transform="translate(539.95,1124.6) rotate(30)" font-size="13" stroke="#000">Lung</text>
<text transform="translate(563,1124.6) rotate(30)" font-size="13" stroke="#000">Spleen</text>
<text transform="translate(586.05,1124.6) rotate(30)" font-size="13" stroke="#000">Whole Blood</text>
</svg></body></html>
